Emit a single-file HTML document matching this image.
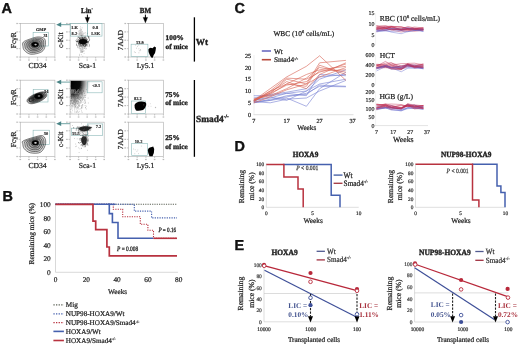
<!DOCTYPE html><html><head><meta charset="utf-8"><style>html,body{margin:0;padding:0;background:#fff;width:520px;height:346px;overflow:hidden}svg{display:block;will-change:transform;text-rendering:geometricPrecision}</style></head><body>
<svg width="520" height="346" viewBox="0 0 520 346">
<rect width="520" height="346" fill="#fff"/>
<g>
<text x="1.6" y="12.7" font-size="14.4" text-anchor="start" font-weight="bold" font-family="'Liberation Sans',sans-serif" fill="#111" stroke="#111" stroke-width="0.4">A</text>
<text x="2.4" y="201.1" font-size="14.4" text-anchor="start" font-weight="bold" font-family="'Liberation Sans',sans-serif" fill="#111" stroke="#111" stroke-width="0.4">B</text>
<text x="234.4" y="12.7" font-size="14.4" text-anchor="start" font-weight="bold" font-family="'Liberation Sans',sans-serif" fill="#111" stroke="#111" stroke-width="0.4">C</text>
<text x="234.6" y="150.8" font-size="14.4" text-anchor="start" font-weight="bold" font-family="'Liberation Sans',sans-serif" fill="#111" stroke="#111" stroke-width="0.4">D</text>
<text x="234.6" y="249.5" font-size="14.4" text-anchor="start" font-weight="bold" font-family="'Liberation Sans',sans-serif" fill="#111" stroke="#111" stroke-width="0.4">E</text>
<rect x="20.3" y="23.5" width="34.599999999999994" height="33.5" stroke="#b8b8b8" fill="none" stroke-width="0.7"/>
<line x1="18.7" y1="23.5" x2="20.3" y2="23.5" stroke="#999" stroke-width="0.5"/>
<line x1="20.3" y1="57.0" x2="20.3" y2="58.6" stroke="#999" stroke-width="0.5"/>
<line x1="18.7" y1="31.875" x2="20.3" y2="31.875" stroke="#999" stroke-width="0.5"/>
<line x1="28.95" y1="57.0" x2="28.95" y2="58.6" stroke="#999" stroke-width="0.5"/>
<line x1="18.7" y1="40.25" x2="20.3" y2="40.25" stroke="#999" stroke-width="0.5"/>
<line x1="37.599999999999994" y1="57.0" x2="37.599999999999994" y2="58.6" stroke="#999" stroke-width="0.5"/>
<line x1="18.7" y1="48.625" x2="20.3" y2="48.625" stroke="#999" stroke-width="0.5"/>
<line x1="46.25" y1="57.0" x2="46.25" y2="58.6" stroke="#999" stroke-width="0.5"/>
<line x1="18.7" y1="57.0" x2="20.3" y2="57.0" stroke="#999" stroke-width="0.5"/>
<line x1="54.89999999999999" y1="57.0" x2="54.89999999999999" y2="58.6" stroke="#999" stroke-width="0.5"/>
<rect x="16.3" y="22.9" width="1.6" height="1.2" fill="#bbb"/>
<rect x="19.5" y="59.4" width="1.6" height="1.2" fill="#bbb"/>
<rect x="16.3" y="31.3" width="1.6" height="1.2" fill="#bbb"/>
<rect x="28.1" y="59.4" width="1.6" height="1.2" fill="#bbb"/>
<rect x="16.3" y="39.6" width="1.6" height="1.2" fill="#bbb"/>
<rect x="36.8" y="59.4" width="1.6" height="1.2" fill="#bbb"/>
<rect x="16.3" y="48.0" width="1.6" height="1.2" fill="#bbb"/>
<rect x="45.5" y="59.4" width="1.6" height="1.2" fill="#bbb"/>
<rect x="16.3" y="56.4" width="1.6" height="1.2" fill="#bbb"/>
<rect x="54.1" y="59.4" width="1.6" height="1.2" fill="#bbb"/>
<rect x="70.1" y="23.5" width="34.10000000000001" height="33.5" stroke="#b8b8b8" fill="none" stroke-width="0.7"/>
<line x1="68.5" y1="23.5" x2="70.1" y2="23.5" stroke="#999" stroke-width="0.5"/>
<line x1="70.1" y1="57.0" x2="70.1" y2="58.6" stroke="#999" stroke-width="0.5"/>
<line x1="68.5" y1="31.875" x2="70.1" y2="31.875" stroke="#999" stroke-width="0.5"/>
<line x1="78.625" y1="57.0" x2="78.625" y2="58.6" stroke="#999" stroke-width="0.5"/>
<line x1="68.5" y1="40.25" x2="70.1" y2="40.25" stroke="#999" stroke-width="0.5"/>
<line x1="87.15" y1="57.0" x2="87.15" y2="58.6" stroke="#999" stroke-width="0.5"/>
<line x1="68.5" y1="48.625" x2="70.1" y2="48.625" stroke="#999" stroke-width="0.5"/>
<line x1="95.675" y1="57.0" x2="95.675" y2="58.6" stroke="#999" stroke-width="0.5"/>
<line x1="68.5" y1="57.0" x2="70.1" y2="57.0" stroke="#999" stroke-width="0.5"/>
<line x1="104.2" y1="57.0" x2="104.2" y2="58.6" stroke="#999" stroke-width="0.5"/>
<rect x="66.1" y="22.9" width="1.6" height="1.2" fill="#bbb"/>
<rect x="69.3" y="59.4" width="1.6" height="1.2" fill="#bbb"/>
<rect x="66.1" y="31.3" width="1.6" height="1.2" fill="#bbb"/>
<rect x="77.8" y="59.4" width="1.6" height="1.2" fill="#bbb"/>
<rect x="66.1" y="39.6" width="1.6" height="1.2" fill="#bbb"/>
<rect x="86.4" y="59.4" width="1.6" height="1.2" fill="#bbb"/>
<rect x="66.1" y="48.0" width="1.6" height="1.2" fill="#bbb"/>
<rect x="94.9" y="59.4" width="1.6" height="1.2" fill="#bbb"/>
<rect x="66.1" y="56.4" width="1.6" height="1.2" fill="#bbb"/>
<rect x="103.4" y="59.4" width="1.6" height="1.2" fill="#bbb"/>
<rect x="128.4" y="23.5" width="35.0" height="33.5" stroke="#b8b8b8" fill="none" stroke-width="0.7"/>
<line x1="126.80000000000001" y1="23.5" x2="128.4" y2="23.5" stroke="#999" stroke-width="0.5"/>
<line x1="128.4" y1="57.0" x2="128.4" y2="58.6" stroke="#999" stroke-width="0.5"/>
<line x1="126.80000000000001" y1="31.875" x2="128.4" y2="31.875" stroke="#999" stroke-width="0.5"/>
<line x1="137.15" y1="57.0" x2="137.15" y2="58.6" stroke="#999" stroke-width="0.5"/>
<line x1="126.80000000000001" y1="40.25" x2="128.4" y2="40.25" stroke="#999" stroke-width="0.5"/>
<line x1="145.9" y1="57.0" x2="145.9" y2="58.6" stroke="#999" stroke-width="0.5"/>
<line x1="126.80000000000001" y1="48.625" x2="128.4" y2="48.625" stroke="#999" stroke-width="0.5"/>
<line x1="154.65" y1="57.0" x2="154.65" y2="58.6" stroke="#999" stroke-width="0.5"/>
<line x1="126.80000000000001" y1="57.0" x2="128.4" y2="57.0" stroke="#999" stroke-width="0.5"/>
<line x1="163.4" y1="57.0" x2="163.4" y2="58.6" stroke="#999" stroke-width="0.5"/>
<rect x="124.4" y="22.9" width="1.6" height="1.2" fill="#bbb"/>
<rect x="127.6" y="59.4" width="1.6" height="1.2" fill="#bbb"/>
<rect x="124.4" y="31.3" width="1.6" height="1.2" fill="#bbb"/>
<rect x="136.3" y="59.4" width="1.6" height="1.2" fill="#bbb"/>
<rect x="124.4" y="39.6" width="1.6" height="1.2" fill="#bbb"/>
<rect x="145.1" y="59.4" width="1.6" height="1.2" fill="#bbb"/>
<rect x="124.4" y="48.0" width="1.6" height="1.2" fill="#bbb"/>
<rect x="153.8" y="59.4" width="1.6" height="1.2" fill="#bbb"/>
<rect x="124.4" y="56.4" width="1.6" height="1.2" fill="#bbb"/>
<rect x="162.6" y="59.4" width="1.6" height="1.2" fill="#bbb"/>
<rect x="20.3" y="80.2" width="34.599999999999994" height="33.8" stroke="#b8b8b8" fill="none" stroke-width="0.7"/>
<line x1="18.7" y1="80.2" x2="20.3" y2="80.2" stroke="#999" stroke-width="0.5"/>
<line x1="20.3" y1="114.0" x2="20.3" y2="115.6" stroke="#999" stroke-width="0.5"/>
<line x1="18.7" y1="88.65" x2="20.3" y2="88.65" stroke="#999" stroke-width="0.5"/>
<line x1="28.95" y1="114.0" x2="28.95" y2="115.6" stroke="#999" stroke-width="0.5"/>
<line x1="18.7" y1="97.1" x2="20.3" y2="97.1" stroke="#999" stroke-width="0.5"/>
<line x1="37.599999999999994" y1="114.0" x2="37.599999999999994" y2="115.6" stroke="#999" stroke-width="0.5"/>
<line x1="18.7" y1="105.55" x2="20.3" y2="105.55" stroke="#999" stroke-width="0.5"/>
<line x1="46.25" y1="114.0" x2="46.25" y2="115.6" stroke="#999" stroke-width="0.5"/>
<line x1="18.7" y1="114.0" x2="20.3" y2="114.0" stroke="#999" stroke-width="0.5"/>
<line x1="54.89999999999999" y1="114.0" x2="54.89999999999999" y2="115.6" stroke="#999" stroke-width="0.5"/>
<rect x="16.3" y="79.6" width="1.6" height="1.2" fill="#bbb"/>
<rect x="19.5" y="116.4" width="1.6" height="1.2" fill="#bbb"/>
<rect x="16.3" y="88.1" width="1.6" height="1.2" fill="#bbb"/>
<rect x="28.1" y="116.4" width="1.6" height="1.2" fill="#bbb"/>
<rect x="16.3" y="96.5" width="1.6" height="1.2" fill="#bbb"/>
<rect x="36.8" y="116.4" width="1.6" height="1.2" fill="#bbb"/>
<rect x="16.3" y="105.0" width="1.6" height="1.2" fill="#bbb"/>
<rect x="45.5" y="116.4" width="1.6" height="1.2" fill="#bbb"/>
<rect x="16.3" y="113.4" width="1.6" height="1.2" fill="#bbb"/>
<rect x="54.1" y="116.4" width="1.6" height="1.2" fill="#bbb"/>
<rect x="70.1" y="80.2" width="34.10000000000001" height="33.8" stroke="#b8b8b8" fill="none" stroke-width="0.7"/>
<line x1="68.5" y1="80.2" x2="70.1" y2="80.2" stroke="#999" stroke-width="0.5"/>
<line x1="70.1" y1="114.0" x2="70.1" y2="115.6" stroke="#999" stroke-width="0.5"/>
<line x1="68.5" y1="88.65" x2="70.1" y2="88.65" stroke="#999" stroke-width="0.5"/>
<line x1="78.625" y1="114.0" x2="78.625" y2="115.6" stroke="#999" stroke-width="0.5"/>
<line x1="68.5" y1="97.1" x2="70.1" y2="97.1" stroke="#999" stroke-width="0.5"/>
<line x1="87.15" y1="114.0" x2="87.15" y2="115.6" stroke="#999" stroke-width="0.5"/>
<line x1="68.5" y1="105.55" x2="70.1" y2="105.55" stroke="#999" stroke-width="0.5"/>
<line x1="95.675" y1="114.0" x2="95.675" y2="115.6" stroke="#999" stroke-width="0.5"/>
<line x1="68.5" y1="114.0" x2="70.1" y2="114.0" stroke="#999" stroke-width="0.5"/>
<line x1="104.2" y1="114.0" x2="104.2" y2="115.6" stroke="#999" stroke-width="0.5"/>
<rect x="66.1" y="79.6" width="1.6" height="1.2" fill="#bbb"/>
<rect x="69.3" y="116.4" width="1.6" height="1.2" fill="#bbb"/>
<rect x="66.1" y="88.1" width="1.6" height="1.2" fill="#bbb"/>
<rect x="77.8" y="116.4" width="1.6" height="1.2" fill="#bbb"/>
<rect x="66.1" y="96.5" width="1.6" height="1.2" fill="#bbb"/>
<rect x="86.4" y="116.4" width="1.6" height="1.2" fill="#bbb"/>
<rect x="66.1" y="105.0" width="1.6" height="1.2" fill="#bbb"/>
<rect x="94.9" y="116.4" width="1.6" height="1.2" fill="#bbb"/>
<rect x="66.1" y="113.4" width="1.6" height="1.2" fill="#bbb"/>
<rect x="103.4" y="116.4" width="1.6" height="1.2" fill="#bbb"/>
<rect x="128.4" y="80.2" width="35.0" height="33.8" stroke="#b8b8b8" fill="none" stroke-width="0.7"/>
<line x1="126.80000000000001" y1="80.2" x2="128.4" y2="80.2" stroke="#999" stroke-width="0.5"/>
<line x1="128.4" y1="114.0" x2="128.4" y2="115.6" stroke="#999" stroke-width="0.5"/>
<line x1="126.80000000000001" y1="88.65" x2="128.4" y2="88.65" stroke="#999" stroke-width="0.5"/>
<line x1="137.15" y1="114.0" x2="137.15" y2="115.6" stroke="#999" stroke-width="0.5"/>
<line x1="126.80000000000001" y1="97.1" x2="128.4" y2="97.1" stroke="#999" stroke-width="0.5"/>
<line x1="145.9" y1="114.0" x2="145.9" y2="115.6" stroke="#999" stroke-width="0.5"/>
<line x1="126.80000000000001" y1="105.55" x2="128.4" y2="105.55" stroke="#999" stroke-width="0.5"/>
<line x1="154.65" y1="114.0" x2="154.65" y2="115.6" stroke="#999" stroke-width="0.5"/>
<line x1="126.80000000000001" y1="114.0" x2="128.4" y2="114.0" stroke="#999" stroke-width="0.5"/>
<line x1="163.4" y1="114.0" x2="163.4" y2="115.6" stroke="#999" stroke-width="0.5"/>
<rect x="124.4" y="79.6" width="1.6" height="1.2" fill="#bbb"/>
<rect x="127.6" y="116.4" width="1.6" height="1.2" fill="#bbb"/>
<rect x="124.4" y="88.1" width="1.6" height="1.2" fill="#bbb"/>
<rect x="136.3" y="116.4" width="1.6" height="1.2" fill="#bbb"/>
<rect x="124.4" y="96.5" width="1.6" height="1.2" fill="#bbb"/>
<rect x="145.1" y="116.4" width="1.6" height="1.2" fill="#bbb"/>
<rect x="124.4" y="105.0" width="1.6" height="1.2" fill="#bbb"/>
<rect x="153.8" y="116.4" width="1.6" height="1.2" fill="#bbb"/>
<rect x="124.4" y="113.4" width="1.6" height="1.2" fill="#bbb"/>
<rect x="162.6" y="116.4" width="1.6" height="1.2" fill="#bbb"/>
<rect x="20.3" y="122.2" width="34.599999999999994" height="34.3" stroke="#b8b8b8" fill="none" stroke-width="0.7"/>
<line x1="18.7" y1="122.2" x2="20.3" y2="122.2" stroke="#999" stroke-width="0.5"/>
<line x1="20.3" y1="156.5" x2="20.3" y2="158.1" stroke="#999" stroke-width="0.5"/>
<line x1="18.7" y1="130.775" x2="20.3" y2="130.775" stroke="#999" stroke-width="0.5"/>
<line x1="28.95" y1="156.5" x2="28.95" y2="158.1" stroke="#999" stroke-width="0.5"/>
<line x1="18.7" y1="139.35" x2="20.3" y2="139.35" stroke="#999" stroke-width="0.5"/>
<line x1="37.599999999999994" y1="156.5" x2="37.599999999999994" y2="158.1" stroke="#999" stroke-width="0.5"/>
<line x1="18.7" y1="147.925" x2="20.3" y2="147.925" stroke="#999" stroke-width="0.5"/>
<line x1="46.25" y1="156.5" x2="46.25" y2="158.1" stroke="#999" stroke-width="0.5"/>
<line x1="18.7" y1="156.5" x2="20.3" y2="156.5" stroke="#999" stroke-width="0.5"/>
<line x1="54.89999999999999" y1="156.5" x2="54.89999999999999" y2="158.1" stroke="#999" stroke-width="0.5"/>
<rect x="16.3" y="121.6" width="1.6" height="1.2" fill="#bbb"/>
<rect x="19.5" y="158.9" width="1.6" height="1.2" fill="#bbb"/>
<rect x="16.3" y="130.2" width="1.6" height="1.2" fill="#bbb"/>
<rect x="28.1" y="158.9" width="1.6" height="1.2" fill="#bbb"/>
<rect x="16.3" y="138.8" width="1.6" height="1.2" fill="#bbb"/>
<rect x="36.8" y="158.9" width="1.6" height="1.2" fill="#bbb"/>
<rect x="16.3" y="147.3" width="1.6" height="1.2" fill="#bbb"/>
<rect x="45.5" y="158.9" width="1.6" height="1.2" fill="#bbb"/>
<rect x="16.3" y="155.9" width="1.6" height="1.2" fill="#bbb"/>
<rect x="54.1" y="158.9" width="1.6" height="1.2" fill="#bbb"/>
<rect x="70.1" y="122.2" width="34.10000000000001" height="34.3" stroke="#b8b8b8" fill="none" stroke-width="0.7"/>
<line x1="68.5" y1="122.2" x2="70.1" y2="122.2" stroke="#999" stroke-width="0.5"/>
<line x1="70.1" y1="156.5" x2="70.1" y2="158.1" stroke="#999" stroke-width="0.5"/>
<line x1="68.5" y1="130.775" x2="70.1" y2="130.775" stroke="#999" stroke-width="0.5"/>
<line x1="78.625" y1="156.5" x2="78.625" y2="158.1" stroke="#999" stroke-width="0.5"/>
<line x1="68.5" y1="139.35" x2="70.1" y2="139.35" stroke="#999" stroke-width="0.5"/>
<line x1="87.15" y1="156.5" x2="87.15" y2="158.1" stroke="#999" stroke-width="0.5"/>
<line x1="68.5" y1="147.925" x2="70.1" y2="147.925" stroke="#999" stroke-width="0.5"/>
<line x1="95.675" y1="156.5" x2="95.675" y2="158.1" stroke="#999" stroke-width="0.5"/>
<line x1="68.5" y1="156.5" x2="70.1" y2="156.5" stroke="#999" stroke-width="0.5"/>
<line x1="104.2" y1="156.5" x2="104.2" y2="158.1" stroke="#999" stroke-width="0.5"/>
<rect x="66.1" y="121.6" width="1.6" height="1.2" fill="#bbb"/>
<rect x="69.3" y="158.9" width="1.6" height="1.2" fill="#bbb"/>
<rect x="66.1" y="130.2" width="1.6" height="1.2" fill="#bbb"/>
<rect x="77.8" y="158.9" width="1.6" height="1.2" fill="#bbb"/>
<rect x="66.1" y="138.8" width="1.6" height="1.2" fill="#bbb"/>
<rect x="86.4" y="158.9" width="1.6" height="1.2" fill="#bbb"/>
<rect x="66.1" y="147.3" width="1.6" height="1.2" fill="#bbb"/>
<rect x="94.9" y="158.9" width="1.6" height="1.2" fill="#bbb"/>
<rect x="66.1" y="155.9" width="1.6" height="1.2" fill="#bbb"/>
<rect x="103.4" y="158.9" width="1.6" height="1.2" fill="#bbb"/>
<rect x="128.4" y="122.2" width="35.0" height="34.3" stroke="#b8b8b8" fill="none" stroke-width="0.7"/>
<line x1="126.80000000000001" y1="122.2" x2="128.4" y2="122.2" stroke="#999" stroke-width="0.5"/>
<line x1="128.4" y1="156.5" x2="128.4" y2="158.1" stroke="#999" stroke-width="0.5"/>
<line x1="126.80000000000001" y1="130.775" x2="128.4" y2="130.775" stroke="#999" stroke-width="0.5"/>
<line x1="137.15" y1="156.5" x2="137.15" y2="158.1" stroke="#999" stroke-width="0.5"/>
<line x1="126.80000000000001" y1="139.35" x2="128.4" y2="139.35" stroke="#999" stroke-width="0.5"/>
<line x1="145.9" y1="156.5" x2="145.9" y2="158.1" stroke="#999" stroke-width="0.5"/>
<line x1="126.80000000000001" y1="147.925" x2="128.4" y2="147.925" stroke="#999" stroke-width="0.5"/>
<line x1="154.65" y1="156.5" x2="154.65" y2="158.1" stroke="#999" stroke-width="0.5"/>
<line x1="126.80000000000001" y1="156.5" x2="128.4" y2="156.5" stroke="#999" stroke-width="0.5"/>
<line x1="163.4" y1="156.5" x2="163.4" y2="158.1" stroke="#999" stroke-width="0.5"/>
<rect x="124.4" y="121.6" width="1.6" height="1.2" fill="#bbb"/>
<rect x="127.6" y="158.9" width="1.6" height="1.2" fill="#bbb"/>
<rect x="124.4" y="130.2" width="1.6" height="1.2" fill="#bbb"/>
<rect x="136.3" y="158.9" width="1.6" height="1.2" fill="#bbb"/>
<rect x="124.4" y="138.8" width="1.6" height="1.2" fill="#bbb"/>
<rect x="145.1" y="158.9" width="1.6" height="1.2" fill="#bbb"/>
<rect x="124.4" y="147.3" width="1.6" height="1.2" fill="#bbb"/>
<rect x="153.8" y="158.9" width="1.6" height="1.2" fill="#bbb"/>
<rect x="124.4" y="155.9" width="1.6" height="1.2" fill="#bbb"/>
<rect x="162.6" y="158.9" width="1.6" height="1.2" fill="#bbb"/>
<rect x="33.1" y="32.3" width="15.600000000000001" height="13.700000000000003" stroke="#8bb8b8" fill="none" stroke-width="0.6"/>
<rect x="70.6" y="23.6" width="16.700000000000003" height="12.5" stroke="#8bb8b8" fill="none" stroke-width="0.6"/>
<rect x="87.3" y="23.6" width="14.700000000000003" height="12.5" stroke="#8bb8b8" fill="none" stroke-width="0.6"/>
<rect x="131.1" y="44.2" width="16.80000000000001" height="12.099999999999994" stroke="#8bb8b8" fill="none" stroke-width="0.6"/>
<rect x="33.2" y="89.3" width="14.799999999999997" height="12.700000000000003" stroke="#8bb8b8" fill="none" stroke-width="0.6"/>
<rect x="87.2" y="81.8" width="14.899999999999991" height="11.0" stroke="#8bb8b8" fill="none" stroke-width="0.6"/>
<rect x="131.3" y="101.0" width="14.299999999999983" height="12.400000000000006" stroke="#8bb8b8" fill="none" stroke-width="0.6"/>
<rect x="33.1" y="130.2" width="16.199999999999996" height="14.400000000000006" stroke="#8bb8b8" fill="none" stroke-width="0.6"/>
<rect x="71.5" y="128.2" width="16.0" height="7.400000000000006" stroke="#8bb8b8" fill="none" stroke-width="0.6"/>
<rect x="87.5" y="123.9" width="15.200000000000003" height="11.699999999999989" stroke="#8bb8b8" fill="none" stroke-width="0.6"/>
<rect x="131.7" y="143.6" width="15.900000000000006" height="11.900000000000006" stroke="#8bb8b8" fill="none" stroke-width="0.6"/>
<path d="M23.30 42.10C24.48 40.90 27.52 39.87 30.00 39.00C32.48 38.13 35.75 36.92 38.20 36.90C40.65 36.88 43.55 37.35 44.70 38.90C45.85 40.45 45.63 44.03 45.10 46.20C44.57 48.37 43.85 50.55 41.50 51.90C39.15 53.25 33.83 54.52 31.00 54.30C28.17 54.08 25.85 51.95 24.50 50.60C23.15 49.25 23.10 47.62 22.90 46.20C22.70 44.78 22.12 43.30 23.30 42.10Z" fill="rgba(30,30,30,0.16)" stroke="rgba(10,10,10,0.8)" stroke-width="0.6"/>
<path d="M25.25 42.48C26.24 41.48 28.76 40.62 30.83 39.90C32.90 39.18 35.62 38.16 37.67 38.15C39.71 38.14 42.12 38.53 43.08 39.82C44.04 41.11 43.86 44.09 43.42 45.90C42.97 47.71 42.38 49.52 40.42 50.65C38.46 51.77 34.03 52.83 31.67 52.65C29.31 52.47 27.37 50.69 26.25 49.57C25.12 48.44 25.08 47.08 24.92 45.90C24.75 44.72 24.26 43.48 25.25 42.48Z" fill="rgba(30,30,30,0.16)" stroke="rgba(10,10,10,0.8)" stroke-width="0.6"/>
<path d="M27.20 42.87C27.99 42.07 30.01 41.38 31.67 40.80C33.32 40.22 35.50 39.41 37.13 39.40C38.77 39.39 40.70 39.70 41.47 40.73C42.23 41.77 42.09 44.16 41.73 45.60C41.38 47.04 40.90 48.50 39.33 49.40C37.77 50.30 34.22 51.14 32.33 51.00C30.44 50.86 28.90 49.43 28.00 48.53C27.10 47.63 27.07 46.54 26.93 45.60C26.80 44.66 26.41 43.67 27.20 42.87Z" fill="rgba(30,30,30,0.16)" stroke="rgba(10,10,10,0.8)" stroke-width="0.6"/>
<path d="M29.15 43.25C29.74 42.65 31.26 42.13 32.50 41.70C33.74 41.27 35.38 40.66 36.60 40.65C37.83 40.64 39.28 40.88 39.85 41.65C40.42 42.43 40.32 44.22 40.05 45.30C39.78 46.38 39.42 47.48 38.25 48.15C37.08 48.83 34.42 49.46 33.00 49.35C31.58 49.24 30.43 48.17 29.75 47.50C29.07 46.83 29.05 46.01 28.95 45.30C28.85 44.59 28.56 43.85 29.15 43.25Z" fill="rgba(30,30,30,0.16)" stroke="rgba(10,10,10,0.8)" stroke-width="0.6"/>
<path d="M31.10 43.63C31.49 43.23 32.51 42.89 33.33 42.60C34.16 42.31 35.25 41.91 36.07 41.90C36.88 41.89 37.85 42.05 38.23 42.57C38.62 43.08 38.54 44.28 38.37 45.00C38.19 45.72 37.95 46.45 37.17 46.90C36.38 47.35 34.61 47.77 33.67 47.70C32.72 47.63 31.95 46.92 31.50 46.47C31.05 46.02 31.03 45.47 30.97 45.00C30.90 44.53 30.71 44.03 31.10 43.63Z" fill="rgba(30,30,30,0.16)" stroke="rgba(10,10,10,0.8)" stroke-width="0.6"/>
<path d="M33.05 44.02C33.25 43.82 33.75 43.64 34.17 43.50C34.58 43.36 35.13 43.15 35.53 43.15C35.94 43.15 36.42 43.23 36.62 43.48C36.81 43.74 36.77 44.34 36.68 44.70C36.59 45.06 36.48 45.42 36.08 45.65C35.69 45.88 34.81 46.09 34.33 46.05C33.86 46.01 33.48 45.66 33.25 45.43C33.02 45.21 33.02 44.94 32.98 44.70C32.95 44.46 32.85 44.22 33.05 44.02Z" fill="rgba(30,30,30,0.16)" stroke="rgba(10,10,10,0.8)" stroke-width="0.6"/>
<ellipse cx="35" cy="44.4" rx="3.6" ry="2.5" fill="#000"/>
<ellipse cx="35.6" cy="44.6" rx="1.2" ry="0.8" fill="#bbb"/>
<path d="M46.10 93.10C46.78 93.93 47.12 95.53 46.10 96.90C45.08 98.27 42.35 100.17 40.00 101.30C37.65 102.43 34.08 103.57 32.00 103.70C29.92 103.83 28.17 102.97 27.50 102.10C26.83 101.23 26.92 99.77 28.00 98.50C29.08 97.23 31.67 95.60 34.00 94.50C36.33 93.40 39.98 92.13 42.00 91.90C44.02 91.67 45.42 92.27 46.10 93.10Z" fill="rgba(30,30,30,0.3)" stroke="rgba(10,10,10,0.9)" stroke-width="0.6"/>
<path d="M44.83 93.62C45.40 94.31 45.68 95.64 44.83 96.78C43.99 97.92 41.71 99.51 39.75 100.45C37.79 101.39 34.82 102.34 33.08 102.45C31.35 102.56 29.89 101.84 29.33 101.12C28.78 100.39 28.85 99.17 29.75 98.12C30.65 97.06 32.81 95.70 34.75 94.78C36.69 93.87 39.74 92.81 41.42 92.62C43.10 92.42 44.26 92.92 44.83 93.62Z" fill="rgba(30,30,30,0.3)" stroke="rgba(10,10,10,0.9)" stroke-width="0.6"/>
<path d="M43.57 94.13C44.02 94.69 44.24 95.76 43.57 96.67C42.89 97.58 41.07 98.84 39.50 99.60C37.93 100.36 35.56 101.11 34.17 101.20C32.78 101.29 31.61 100.71 31.17 100.13C30.72 99.56 30.78 98.58 31.50 97.73C32.22 96.89 33.94 95.80 35.50 95.07C37.06 94.33 39.49 93.49 40.83 93.33C42.18 93.18 43.11 93.58 43.57 94.13Z" fill="rgba(30,30,30,0.3)" stroke="rgba(10,10,10,0.9)" stroke-width="0.6"/>
<path d="M42.30 94.65C42.64 95.07 42.81 95.87 42.30 96.55C41.79 97.23 40.42 98.18 39.25 98.75C38.08 99.32 36.29 99.88 35.25 99.95C34.21 100.02 33.33 99.58 33.00 99.15C32.67 98.72 32.71 97.98 33.25 97.35C33.79 96.72 35.08 95.90 36.25 95.35C37.42 94.80 39.24 94.17 40.25 94.05C41.26 93.93 41.96 94.23 42.30 94.65Z" fill="rgba(30,30,30,0.3)" stroke="rgba(10,10,10,0.9)" stroke-width="0.6"/>
<path d="M41.03 95.17C41.26 95.44 41.37 95.98 41.03 96.43C40.69 96.89 39.78 97.52 39.00 97.90C38.22 98.28 37.03 98.66 36.33 98.70C35.64 98.74 35.06 98.46 34.83 98.17C34.61 97.88 34.64 97.39 35.00 96.97C35.36 96.54 36.22 96.00 37.00 95.63C37.78 95.27 38.99 94.84 39.67 94.77C40.34 94.69 40.81 94.89 41.03 95.17Z" fill="rgba(30,30,30,0.3)" stroke="rgba(10,10,10,0.9)" stroke-width="0.6"/>
<path d="M39.77 95.68C39.88 95.82 39.94 96.09 39.77 96.32C39.60 96.54 39.14 96.86 38.75 97.05C38.36 97.24 37.76 97.43 37.42 97.45C37.07 97.47 36.78 97.33 36.67 97.18C36.56 97.04 36.57 96.79 36.75 96.58C36.93 96.37 37.36 96.10 37.75 95.92C38.14 95.73 38.75 95.52 39.08 95.48C39.42 95.44 39.65 95.54 39.77 95.68Z" fill="rgba(30,30,30,0.3)" stroke="rgba(10,10,10,0.9)" stroke-width="0.6"/>
<ellipse cx="38.5" cy="96.2" rx="4.2" ry="2.8" fill="#000"/>
<ellipse cx="31.5" cy="99.6" rx="3.2" ry="2.2" transform="rotate(-25 31.5 99.6)" fill="#222" opacity="0.75"/>
<ellipse cx="30.8" cy="100" rx="0.9" ry="0.6" fill="#999"/>
<ellipse cx="39" cy="96" rx="1.3" ry="0.8" fill="#888"/>
<path d="M23.10 141.00C24.80 139.95 29.70 138.37 33.00 137.50C36.30 136.63 40.78 134.87 42.90 135.80C45.02 136.73 46.05 140.38 45.70 143.10C45.35 145.82 43.35 150.48 40.80 152.10C38.25 153.72 33.17 153.37 30.40 152.80C27.63 152.23 25.47 150.20 24.20 148.70C22.93 147.20 22.98 145.08 22.80 143.80C22.62 142.52 21.40 142.05 23.10 141.00Z" fill="rgba(30,30,30,0.13)" stroke="rgba(10,10,10,0.85)" stroke-width="0.6"/>
<path d="M25.13 141.30C26.55 140.42 30.63 139.11 33.38 138.38C36.13 137.66 39.87 136.19 41.63 136.97C43.40 137.74 44.26 140.79 43.97 143.05C43.68 145.31 42.01 149.20 39.88 150.55C37.76 151.90 33.52 151.61 31.22 151.13C28.91 150.66 27.11 148.97 26.05 147.72C24.99 146.47 25.04 144.70 24.88 143.63C24.73 142.56 23.72 142.17 25.13 141.30Z" fill="rgba(30,30,30,0.13)" stroke="rgba(10,10,10,0.85)" stroke-width="0.6"/>
<path d="M27.17 141.60C28.30 140.90 31.57 139.84 33.77 139.27C35.97 138.69 38.96 137.51 40.37 138.13C41.78 138.76 42.47 141.19 42.23 143.00C42.00 144.81 40.67 147.92 38.97 149.00C37.27 150.08 33.88 149.84 32.03 149.47C30.19 149.09 28.74 147.73 27.90 146.73C27.06 145.73 27.09 144.32 26.97 143.47C26.84 142.61 26.03 142.30 27.17 141.60Z" fill="rgba(30,30,30,0.13)" stroke="rgba(10,10,10,0.85)" stroke-width="0.6"/>
<path d="M29.20 141.90C30.05 141.38 32.50 140.58 34.15 140.15C35.80 139.72 38.04 138.83 39.10 139.30C40.16 139.77 40.67 141.59 40.50 142.95C40.33 144.31 39.32 146.64 38.05 147.45C36.77 148.26 34.23 148.08 32.85 147.80C31.47 147.52 30.38 146.50 29.75 145.75C29.12 145.00 29.14 143.94 29.05 143.30C28.96 142.66 28.35 142.43 29.20 141.90Z" fill="rgba(30,30,30,0.13)" stroke="rgba(10,10,10,0.85)" stroke-width="0.6"/>
<path d="M31.23 142.20C31.80 141.85 33.43 141.32 34.53 141.03C35.63 140.74 37.13 140.16 37.83 140.47C38.54 140.78 38.88 141.99 38.77 142.90C38.65 143.81 37.98 145.36 37.13 145.90C36.28 146.44 34.59 146.32 33.67 146.13C32.74 145.94 32.02 145.27 31.60 144.77C31.18 144.27 31.19 143.56 31.13 143.13C31.07 142.71 30.67 142.55 31.23 142.20Z" fill="rgba(30,30,30,0.13)" stroke="rgba(10,10,10,0.85)" stroke-width="0.6"/>
<path d="M33.27 142.50C33.55 142.33 34.37 142.06 34.92 141.92C35.47 141.77 36.21 141.48 36.57 141.63C36.92 141.79 37.09 142.40 37.03 142.85C36.97 143.30 36.64 144.08 36.22 144.35C35.79 144.62 34.94 144.56 34.48 144.47C34.02 144.37 33.66 144.03 33.45 143.78C33.24 143.53 33.25 143.18 33.22 142.97C33.19 142.75 32.98 142.68 33.27 142.50Z" fill="rgba(30,30,30,0.13)" stroke="rgba(10,10,10,0.85)" stroke-width="0.6"/>
<ellipse cx="35.3" cy="142.8" rx="3.4" ry="2.5" fill="#000"/>
<ellipse cx="35.5" cy="142.8" rx="1.3" ry="0.9" fill="#ddd"/>
<path d="M81.8 44.3h0M81.9 41.4h0M80.1 41.7h0M85.4 44.0h0M85.2 43.4h0M83.5 43.2h0M78.2 45.6h0M83.8 44.3h0M78.1 36.2h0M80.2 40.8h0M83.3 42.3h0M83.9 40.2h0M83.3 43.9h0M80.8 48.7h0M83.9 46.8h0M80.9 39.8h0M81.6 42.1h0M84.1 43.4h0M81.3 39.1h0M81.1 46.9h0M80.4 43.4h0M83.6 37.1h0M82.6 47.2h0M77.3 41.3h0M82.2 39.6h0M83.8 42.3h0M78.7 45.5h0M84.2 45.9h0M86.2 43.8h0M82.8 37.8h0M84.1 40.3h0M81.3 37.9h0M80.0 40.6h0M85.9 35.2h0M78.7 43.4h0M86.3 44.6h0M77.6 33.4h0M83.4 39.8h0M79.6 46.0h0M85.4 43.1h0M83.1 44.1h0M86.6 44.7h0M83.8 44.5h0M78.4 47.1h0M85.0 44.4h0M77.4 40.2h0M84.7 36.0h0M82.0 46.2h0M79.1 48.3h0M83.9 42.0h0M83.3 44.8h0M82.8 46.6h0M80.8 41.0h0M85.2 42.6h0M80.2 45.9h0M86.3 40.9h0M78.9 42.0h0M82.1 41.4h0M86.2 38.8h0M85.8 37.9h0M80.5 44.8h0M85.4 45.6h0M83.4 43.0h0M82.9 44.6h0M82.0 43.5h0M84.0 42.5h0M84.5 44.5h0M87.7 43.7h0M81.4 41.2h0M82.5 45.8h0M81.6 43.9h0M87.3 33.3h0M79.6 43.4h0M83.5 43.4h0M81.4 44.9h0M83.2 40.6h0M88.8 43.8h0M81.1 42.1h0M81.9 42.3h0M75.4 40.7h0M85.1 38.3h0M82.3 45.9h0M84.7 47.9h0M78.1 41.2h0M81.6 44.7h0M85.3 32.8h0M85.3 37.3h0M84.3 37.1h0M83.0 46.8h0M82.1 43.2h0M84.6 43.0h0M82.3 48.0h0M85.2 41.4h0M89.6 38.4h0M84.9 41.5h0M82.8 45.0h0M83.1 44.8h0M78.5 37.1h0M84.1 39.0h0M79.8 37.2h0M85.8 45.2h0M86.3 39.1h0M82.5 38.4h0M84.5 48.2h0M80.2 48.1h0M85.1 41.9h0M77.4 47.6h0M82.2 40.3h0M83.5 44.0h0M86.4 38.8h0M85.5 47.9h0M86.3 41.8h0M80.6 46.2h0M82.8 42.9h0M86.2 41.6h0M76.5 41.1h0M77.7 45.4h0M83.3 40.3h0M82.5 45.5h0M82.7 47.3h0M82.3 46.2h0M86.4 48.3h0M80.8 45.7h0M77.6 38.6h0M77.4 46.3h0M79.3 42.5h0M82.0 42.4h0M81.0 43.3h0M87.2 42.7h0M83.9 46.1h0M82.0 38.0h0M81.1 46.4h0M78.2 40.3h0M85.1 45.4h0M82.5 45.4h0M82.9 38.3h0M78.4 40.2h0M84.9 40.5h0M80.2 39.7h0M78.5 42.1h0M79.4 43.8h0M76.4 43.7h0M80.8 35.5h0M84.4 41.5h0M76.7 39.3h0M83.3 40.8h0M84.5 45.2h0M84.2 43.7h0M86.0 44.9h0M83.7 35.0h0M84.8 47.2h0M81.7 40.8h0M87.5 36.2h0M83.7 51.2h0M80.1 45.0h0M87.4 42.1h0M84.0 45.7h0M80.1 42.2h0M83.3 45.5h0M82.4 41.8h0M79.9 41.2h0M84.8 42.9h0M80.3 39.5h0M89.4 46.6h0M84.2 33.2h0M84.1 44.2h0M86.9 44.0h0M82.3 44.4h0M77.4 46.2h0M83.3 40.0h0M85.9 49.0h0M78.9 40.1h0M83.3 43.2h0M81.5 39.0h0M88.0 46.2h0M79.4 37.7h0M86.9 46.1h0M87.2 45.4h0M80.2 43.4h0M76.9 39.8h0M82.3 44.4h0M80.6 42.1h0M83.7 43.9h0M84.2 43.3h0M81.7 45.3h0M82.6 39.5h0M80.9 42.5h0M82.2 43.1h0M82.5 43.1h0M82.2 38.0h0M83.6 46.3h0M83.6 41.8h0M83.7 39.0h0M77.6 42.7h0M80.1 45.2h0M79.7 33.0h0M79.8 48.2h0M81.5 37.6h0M80.5 44.4h0M83.8 43.1h0M86.4 45.0h0M82.4 44.6h0M86.8 46.0h0M85.2 38.6h0M82.1 45.1h0M81.7 46.3h0M84.1 45.8h0M81.9 51.7h0M85.7 41.7h0M82.7 51.8h0M81.6 45.6h0M85.0 42.5h0M79.5 43.2h0M83.4 46.6h0M84.5 42.6h0M84.7 44.4h0M83.0 42.7h0M81.9 45.0h0M79.8 40.2h0M82.5 37.2h0" stroke="#333" stroke-width="0.9" stroke-linecap="round" opacity="0.35"/>
<path d="M80.3 28.8h0M80.0 35.5h0M81.5 33.9h0M80.5 30.3h0M83.0 35.3h0M82.1 31.7h0M80.6 29.3h0M81.7 36.4h0M78.5 33.9h0M81.6 29.4h0M78.6 31.2h0M80.0 30.4h0M80.8 34.6h0M81.6 35.8h0M82.6 37.0h0M79.2 32.7h0M79.5 31.2h0M80.7 34.0h0M81.4 29.9h0M79.3 33.9h0M80.6 33.2h0M80.7 32.0h0M81.6 34.9h0M80.7 32.3h0M80.6 26.9h0M79.6 34.1h0M79.0 34.5h0M81.0 30.4h0M80.5 33.2h0M81.4 35.6h0M80.8 31.8h0M80.6 33.8h0M81.7 34.8h0M79.9 30.5h0M80.4 32.1h0M79.5 33.7h0M80.2 34.3h0M81.4 32.9h0M83.6 33.2h0M82.1 34.3h0M82.1 27.8h0M79.9 34.6h0M81.5 40.1h0M81.2 37.3h0M81.7 36.5h0M81.4 33.6h0M81.4 31.2h0M82.2 31.4h0M81.1 39.5h0M80.5 34.1h0M82.2 34.1h0M79.8 34.7h0M81.5 35.8h0M79.9 38.6h0M82.8 34.0h0M81.1 32.9h0M82.5 32.2h0M81.6 32.8h0M80.0 35.9h0M82.4 34.0h0" stroke="#555" stroke-width="0.9" stroke-linecap="round" opacity="0.35"/>
<path d="M81.1 52.4h0M81.9 50.9h0M84.1 53.4h0M82.0 52.4h0M81.1 49.9h0M79.6 55.4h0M83.9 46.4h0M79.9 45.1h0M83.6 48.6h0M81.9 49.1h0M81.8 46.7h0M82.0 45.7h0M81.9 50.9h0M82.7 49.3h0M80.7 50.5h0M81.3 54.7h0M83.1 49.7h0M81.3 47.9h0M80.7 48.9h0M82.4 51.5h0M82.8 56.3h0M81.0 50.0h0M85.9 44.4h0M81.3 50.5h0M82.2 51.2h0M81.7 51.1h0M82.1 52.3h0M79.4 47.3h0M82.0 46.9h0M80.5 51.9h0M81.1 51.9h0M83.0 50.9h0M82.7 49.7h0M80.0 49.9h0M82.6 48.4h0M81.9 52.2h0M80.8 51.9h0M84.6 48.3h0M82.2 49.5h0M84.2 50.9h0M83.3 47.9h0M82.0 50.0h0M79.5 54.3h0M83.3 44.8h0" stroke="#555" stroke-width="0.9" stroke-linecap="round" opacity="0.35"/>
<ellipse cx="83" cy="41.6" rx="4.2" ry="2.7" fill="#000" opacity="0.9"/>
<path d="M84.9 41.3h0M84.2 42.2h0M79.1 41.1h0M86.9 40.5h0M80.3 39.1h0M79.8 42.1h0M87.4 42.3h0M83.6 45.5h0M81.6 40.3h0M84.4 42.5h0M80.4 39.4h0M83.8 41.9h0M79.6 41.1h0M81.6 42.3h0M82.7 41.3h0M82.1 43.4h0M86.6 40.8h0M85.2 40.1h0M83.2 42.8h0M86.9 40.8h0M82.8 41.9h0M79.1 41.5h0M81.2 42.2h0M80.1 37.9h0M83.1 42.0h0M81.6 43.1h0M82.3 40.4h0M84.2 38.7h0M81.2 41.5h0M85.2 41.2h0M83.8 40.3h0M83.8 44.5h0M81.2 45.8h0M81.3 41.5h0M83.5 43.3h0M79.8 37.7h0M84.6 42.9h0M84.6 46.2h0M83.5 42.0h0M85.4 42.2h0M87.3 39.3h0M82.0 35.3h0M85.1 40.8h0M85.4 45.4h0M83.0 41.0h0M81.7 40.0h0M81.4 42.7h0M83.1 41.6h0M82.5 43.1h0M84.3 41.2h0M84.7 41.2h0M80.0 44.1h0M84.2 39.8h0M85.8 42.1h0M78.9 44.4h0M83.9 43.1h0M83.5 41.2h0M79.0 43.2h0M83.1 41.0h0M83.9 41.6h0M84.8 40.8h0M82.9 37.6h0M81.9 42.7h0M86.5 40.8h0M82.7 44.4h0M82.2 42.8h0M87.4 41.6h0M86.2 40.2h0M83.5 41.4h0M83.3 43.5h0M89.2 40.3h0M81.5 42.4h0M80.3 42.4h0M84.5 41.0h0M84.4 38.7h0M85.0 38.7h0M81.2 40.5h0M82.0 43.0h0M83.2 40.8h0M84.4 44.3h0M83.0 42.2h0M86.2 42.0h0M79.7 46.0h0M88.7 37.9h0M82.9 42.3h0M85.5 42.7h0M82.3 39.6h0M83.3 43.4h0M80.2 39.7h0M82.9 38.0h0M82.3 40.7h0M84.2 40.2h0M80.7 40.8h0M82.9 40.3h0M83.0 42.9h0M86.1 44.6h0M81.0 40.7h0M76.5 44.9h0M81.1 41.4h0M84.4 39.1h0M84.2 41.5h0M78.3 42.0h0M86.1 38.1h0M85.1 41.9h0M84.2 42.3h0M86.4 41.1h0M85.3 40.8h0M84.9 40.0h0M82.7 44.6h0M84.2 41.2h0M80.0 40.1h0M83.5 43.2h0M84.1 42.4h0M82.9 43.9h0M82.0 40.5h0M85.3 41.6h0M82.3 40.5h0M82.3 42.6h0M83.9 39.3h0M84.1 41.8h0M80.4 42.9h0M82.3 40.9h0M85.1 43.9h0M81.2 42.3h0M80.7 45.7h0M81.7 43.7h0M81.3 43.0h0M88.8 36.9h0M81.9 42.4h0M82.8 40.3h0M88.6 41.6h0M78.7 43.0h0M78.5 43.6h0M81.5 41.8h0M86.3 41.7h0M79.4 38.4h0M86.1 42.8h0M80.9 43.0h0M84.3 42.7h0M77.1 41.0h0M85.3 42.8h0M85.3 37.1h0M83.4 42.4h0M89.6 39.8h0M82.1 41.6h0M85.3 40.7h0M86.0 40.1h0M83.7 40.6h0M83.4 40.3h0M78.8 43.5h0M83.8 40.5h0M83.5 43.3h0M80.5 41.3h0M84.4 42.4h0M82.1 37.7h0M86.2 42.1h0M83.0 41.0h0M83.7 40.7h0M80.3 40.2h0M81.4 40.4h0M80.0 42.6h0M79.6 42.7h0M80.4 42.1h0M86.6 41.9h0M81.1 41.6h0M83.4 38.4h0M81.4 41.8h0M81.8 41.6h0M84.9 42.9h0M85.4 42.6h0M82.3 41.5h0M82.3 40.9h0M82.5 38.4h0M82.1 41.5h0M80.5 41.5h0M84.3 41.2h0M88.4 36.8h0M82.5 38.2h0M85.5 46.3h0M76.5 41.7h0M84.3 41.0h0M84.4 37.5h0M85.2 42.2h0M83.1 40.4h0M84.7 40.6h0M83.6 40.6h0M77.2 41.4h0M83.5 42.9h0M80.7 41.4h0M84.6 41.8h0M86.2 45.1h0M80.6 38.0h0M85.2 44.3h0M85.4 43.0h0M81.4 40.2h0M85.3 39.9h0M78.3 39.7h0M89.5 45.0h0M81.2 40.2h0M83.6 40.2h0M86.4 41.4h0M80.2 43.9h0M81.5 41.9h0M83.0 40.9h0M83.8 40.3h0M78.2 37.5h0M79.7 40.1h0M82.9 41.6h0M84.4 41.7h0M80.9 40.2h0M77.5 41.2h0M84.3 42.5h0M82.7 41.2h0M85.4 41.5h0M84.9 42.5h0M83.6 43.9h0M81.5 40.9h0M80.9 40.1h0M87.0 44.7h0M83.1 42.5h0M86.1 43.0h0M86.1 39.2h0M81.3 42.3h0M86.7 41.7h0M80.8 40.9h0M81.3 40.0h0M86.9 40.4h0M83.1 45.4h0M86.1 42.1h0M81.4 42.2h0M87.2 42.6h0M86.3 41.7h0M84.3 41.1h0M84.1 43.8h0M79.3 41.4h0M83.6 40.5h0M82.2 42.9h0M88.2 42.6h0M83.8 38.7h0M88.0 41.6h0M82.9 39.5h0M82.9 39.5h0M83.2 42.3h0M83.1 42.0h0M80.8 44.1h0M81.3 38.2h0M82.5 40.1h0M80.4 40.9h0M83.8 39.4h0M82.6 44.1h0" stroke="#000" stroke-width="1.1" stroke-linecap="round" opacity="0.6"/>
<path d="M148.4 49.5Q149.5 46.8 152.5 48.2L154.3 46.6L156 47.5L155.6 50.5Q155.4 53.5 153.6 55.2L152.8 57.7L151.2 57.6Q149.4 54.5 148.6 52Z" fill="#000"/>
<path d="M140.7 50.6h0M139.3 50.7h0M138.9 52.8h0M138.8 45.0h0M138.9 48.8h0M140.6 49.5h0M136.4 48.2h0M135.5 45.0h0M134.3 51.9h0M137.4 46.3h0M135.3 52.5h0" stroke="#999" stroke-width="0.9" stroke-linecap="round" opacity="0.6"/>
<defs><radialGradient id="g22" cx="72" cy="82" r="1" gradientUnits="userSpaceOnUse" gradientTransform="translate(72 82) scale(18.5 24) translate(-72 -82)"><stop offset="0" stop-color="#000" stop-opacity="1"/><stop offset="0.45" stop-color="#000" stop-opacity="0.95"/><stop offset="0.62" stop-color="#111" stop-opacity="0.6"/><stop offset="0.8" stop-color="#333" stop-opacity="0.25"/><stop offset="1" stop-color="#666" stop-opacity="0"/></radialGradient><clipPath id="c22"><rect x="70.4" y="80.6" width="33.6" height="33.2"/></clipPath></defs>
<rect x="70.4" y="80.6" width="20" height="30" fill="url(#g22)" clip-path="url(#c22)"/>
<path d="M73.5 94.8h0M78.5 105.1h0M85.7 103.2h0M77.6 98.1h0M85.1 105.6h0M75.6 99.7h0M78.3 97.3h0M74.7 89.0h0M74.6 87.7h0M82.5 100.2h0M71.6 105.4h0M81.0 85.5h0M85.3 101.9h0M86.3 89.6h0M79.4 99.5h0M77.9 98.0h0M81.7 88.0h0M71.4 88.6h0M74.5 93.4h0M78.7 98.6h0M77.1 92.9h0M75.0 102.7h0M80.4 97.6h0M75.5 106.3h0M74.3 100.9h0M82.2 95.4h0M80.7 90.3h0M81.6 98.2h0M73.0 104.7h0M73.9 96.0h0M78.3 95.0h0M78.2 93.7h0M80.0 97.0h0M82.2 97.2h0M79.1 103.4h0M72.1 106.3h0M76.3 111.4h0M76.3 101.1h0M75.4 90.3h0M81.9 102.4h0M83.9 102.1h0M74.4 87.0h0M74.1 92.9h0M73.3 100.5h0M78.5 95.4h0M77.8 96.1h0M78.0 101.5h0M81.3 92.9h0M77.5 103.6h0M77.1 88.4h0M74.7 101.3h0M81.9 106.6h0M73.1 88.6h0M79.3 102.6h0M77.9 89.2h0M80.5 101.8h0M79.5 94.1h0M78.4 101.7h0M74.5 85.9h0M78.5 99.9h0M77.1 102.3h0M74.4 96.5h0M75.6 100.4h0M84.2 95.5h0M86.2 106.2h0M80.6 100.5h0M85.0 95.9h0M76.5 90.6h0M79.1 105.1h0M79.4 99.5h0M76.1 98.0h0M70.6 103.3h0M75.2 90.4h0M73.6 92.1h0M80.8 103.3h0M70.9 102.6h0M81.0 93.5h0M74.1 99.1h0M75.4 84.8h0M78.1 87.8h0M81.1 89.8h0M73.9 91.9h0M74.6 104.8h0M80.8 100.6h0M78.4 87.7h0M74.7 93.7h0M72.6 100.1h0M73.7 92.7h0M72.3 84.7h0M79.7 105.0h0M77.8 91.1h0M82.5 98.8h0M81.2 105.9h0M82.1 94.4h0M81.7 101.7h0M70.6 96.3h0M79.6 90.6h0M78.7 105.8h0M71.0 103.4h0M86.3 109.0h0M76.1 98.6h0M76.3 103.0h0M81.7 97.5h0M70.9 101.4h0M74.9 100.8h0M78.2 106.7h0M82.1 94.3h0M78.6 107.6h0M74.6 99.6h0M82.4 104.5h0M79.3 89.1h0M71.3 98.5h0M78.7 112.3h0M73.1 103.8h0M80.5 87.0h0M73.3 98.0h0M74.8 96.1h0M79.1 92.1h0M79.1 93.2h0M74.5 100.2h0M74.4 98.7h0M84.2 97.2h0M76.3 101.4h0M75.4 103.5h0M71.2 100.7h0M74.7 92.2h0M85.0 91.9h0M84.9 100.9h0M83.5 91.1h0M82.4 105.7h0M76.5 96.2h0M88.1 98.1h0M75.1 93.2h0M79.0 99.0h0M77.8 107.3h0M75.5 99.8h0M83.6 91.0h0M81.7 108.0h0M70.9 90.4h0M72.3 85.9h0M79.0 85.9h0M79.2 105.7h0M73.7 95.4h0M77.2 100.3h0M75.4 97.1h0M74.5 97.7h0M71.7 97.4h0M85.6 97.5h0M71.3 98.5h0M72.6 87.1h0M73.7 101.4h0M78.7 96.4h0M72.8 90.5h0M83.1 98.5h0M72.7 84.3h0M70.8 111.9h0M71.8 96.5h0M77.9 96.1h0M75.7 88.8h0M72.3 107.1h0M73.6 102.1h0M78.2 103.2h0M71.9 100.6h0M78.7 92.6h0M79.1 91.6h0M73.4 96.9h0M72.5 88.2h0M75.1 101.6h0M75.2 104.6h0M71.8 89.1h0M84.0 99.4h0M81.3 92.0h0M80.6 98.6h0M79.9 97.2h0M82.4 93.1h0M72.7 88.1h0M82.2 92.6h0M72.3 91.4h0M75.0 89.4h0M75.7 93.2h0M74.5 91.2h0M77.2 94.2h0M77.5 98.5h0M78.5 83.9h0M74.6 92.2h0M80.5 87.5h0M73.8 95.2h0M75.5 102.9h0M75.0 102.8h0M70.4 86.1h0M82.5 99.6h0M79.2 97.7h0M79.2 89.7h0M81.3 93.8h0M81.4 97.5h0M82.1 96.2h0M75.2 98.5h0M75.1 93.7h0M77.5 97.9h0M83.8 97.3h0M85.5 107.8h0M84.7 103.4h0M77.6 97.8h0M76.4 92.6h0M76.7 93.2h0M84.4 100.2h0M75.0 85.5h0M76.8 94.5h0M72.1 90.2h0M76.7 112.5h0M76.9 96.1h0M83.5 97.8h0M77.8 94.8h0M74.3 106.0h0M81.5 107.3h0M75.4 97.2h0M73.0 102.8h0M70.7 100.4h0M81.9 105.5h0M72.8 103.5h0M73.8 92.5h0M71.0 103.9h0M84.4 93.4h0M73.6 95.0h0M88.3 103.0h0M74.6 86.2h0M74.0 104.1h0M85.4 95.4h0M73.9 93.9h0M72.1 103.4h0M78.3 92.4h0M80.5 97.0h0M71.7 100.7h0M80.8 85.5h0M85.2 100.0h0M80.4 85.8h0M73.8 94.9h0M81.8 88.2h0M73.0 84.8h0M75.9 99.1h0M79.3 106.5h0" stroke="#111" stroke-width="0.84" stroke-linecap="round" opacity="0.3"/>
<path d="M77.3 103.8h0M70.9 101.3h0M72.7 105.6h0M74.8 111.7h0M76.0 100.7h0M80.4 108.8h0M75.4 102.1h0M78.2 101.8h0M75.9 107.4h0M77.3 110.6h0M72.1 108.9h0M71.5 107.8h0M75.6 106.0h0M78.4 104.9h0M78.9 108.5h0M75.5 102.7h0M72.4 102.9h0M74.3 104.9h0M85.4 107.6h0M77.7 101.6h0M72.5 103.7h0M75.7 100.9h0M80.6 102.7h0M78.8 95.7h0M75.0 106.1h0M75.7 107.4h0M76.0 105.6h0M76.1 104.2h0M72.1 102.7h0M81.5 111.9h0M74.8 110.2h0M73.3 101.5h0M73.0 105.8h0M85.6 102.4h0M75.2 106.1h0M74.9 108.7h0M81.2 100.0h0M75.6 103.9h0M76.2 98.9h0M76.8 105.8h0M75.3 95.5h0M73.7 102.0h0M77.4 107.2h0M74.9 107.1h0M72.9 105.3h0M75.1 107.2h0M74.8 104.4h0M74.5 102.4h0M82.8 107.1h0M79.9 98.8h0M77.4 108.4h0M81.6 110.3h0M77.7 100.3h0M72.0 106.1h0M76.8 100.9h0M73.7 103.4h0M75.2 106.3h0M74.0 100.1h0M79.3 111.4h0M74.6 109.1h0M76.6 107.6h0M76.7 101.9h0M77.0 109.0h0M71.9 112.9h0M82.3 112.3h0M82.0 108.0h0M73.8 102.6h0M72.2 105.5h0M74.9 107.7h0M83.0 104.9h0M77.4 106.9h0M76.0 104.2h0M74.6 101.7h0M75.6 104.9h0M76.1 101.6h0M75.1 105.2h0M77.1 100.7h0M76.5 108.9h0M77.1 103.5h0M73.3 104.1h0M77.6 111.2h0M74.4 102.4h0M76.3 105.8h0M71.8 102.1h0M74.6 107.7h0M70.8 100.9h0M76.7 100.1h0M75.4 106.4h0M74.6 100.9h0M74.8 103.7h0M76.2 101.6h0M78.8 98.3h0M74.4 105.0h0M78.4 102.6h0M76.9 102.7h0M77.6 111.9h0M73.6 106.8h0M71.8 108.9h0M79.2 105.1h0M71.0 106.6h0M79.0 109.4h0M77.8 97.7h0M72.6 110.7h0M70.7 109.5h0M81.6 108.0h0M78.9 103.7h0M70.7 104.6h0M74.3 104.8h0M77.4 104.4h0M75.7 106.7h0M75.0 112.4h0" stroke="#333" stroke-width="0.8" stroke-linecap="round" opacity="0.28"/>
<path d="M134.5 105Q136 101.8 141 101.6Q145.5 101.4 146.2 103.5Q146.2 107.5 143 110Q139 111.2 136 110.6Q134.3 108.5 134.5 105Z" fill="#000"/>
<path d="M148.3 106.2h0M146.4 104.7h0M151.0 106.3h0M143.8 104.9h0M146.6 105.1h0M150.3 103.7h0" stroke="#aaa" stroke-width="0.8" stroke-linecap="round" opacity="0.6"/>
<circle cx="155.5" cy="107.5" r="0.7" fill="#bbb" stroke="none" stroke-width="1"/>
<path d="M78.5 129Q80 126.2 84 126.2Q88.5 126.2 92.3 127Q89 130.8 85 131.4Q80.5 131.6 78.5 129Z" fill="#111" opacity="0.85"/>
<path d="M81.2 139.5Q81.8 136.2 84 136.3Q86.8 136.6 86.8 140Q86.4 144.2 84.3 145.4Q81.6 144.2 81.2 139.5Z" fill="#111" opacity="0.85"/>
<path d="M86.1 129.0h0M80.7 128.9h0M84.2 129.5h0M83.1 129.2h0M79.2 127.4h0M87.0 130.2h0M84.5 128.0h0M88.0 126.1h0M81.9 129.7h0M86.6 127.5h0M78.5 130.7h0M85.0 127.6h0M84.7 130.0h0M76.2 130.2h0M86.9 126.1h0M87.0 126.5h0M88.1 129.3h0M91.7 128.0h0M84.5 130.2h0M82.5 127.9h0M83.3 128.7h0M81.0 129.4h0M86.2 128.9h0M89.9 128.4h0M88.7 128.1h0M86.9 126.3h0M85.1 128.6h0M82.9 128.0h0M83.4 127.9h0M77.5 128.0h0M82.7 128.1h0M81.1 128.6h0M87.0 128.5h0M82.9 130.6h0M87.6 130.0h0M88.2 128.4h0M84.1 130.2h0M82.7 128.6h0M85.7 129.3h0M83.6 130.1h0M83.9 129.7h0M87.9 129.7h0M86.8 127.3h0M80.3 128.0h0M86.0 130.8h0M80.6 129.2h0M81.8 127.8h0M83.6 129.7h0M85.2 130.3h0M81.3 130.0h0M87.5 128.9h0M86.0 128.1h0M81.0 128.3h0M82.4 132.6h0M82.9 130.9h0M85.1 129.2h0M86.9 127.8h0M87.4 129.3h0M79.6 129.6h0M86.3 129.4h0M89.6 128.3h0M86.1 129.8h0M81.6 130.4h0M79.9 127.1h0M86.2 127.4h0M84.1 126.7h0M84.7 127.3h0M85.6 126.8h0M85.9 128.5h0M84.7 128.7h0M84.9 127.1h0M76.3 128.8h0M81.5 128.2h0M85.9 126.2h0M82.1 128.0h0M81.1 129.2h0M84.1 127.7h0M81.3 129.8h0M82.4 129.6h0M85.9 126.3h0M81.0 128.8h0M85.6 129.8h0M87.1 130.1h0M83.3 128.5h0M87.0 128.2h0M87.9 126.7h0M86.6 128.6h0M78.2 130.1h0M85.5 128.8h0M81.1 128.2h0M89.3 127.7h0M73.4 127.7h0M80.7 128.6h0M83.2 127.6h0M81.8 130.2h0M79.9 131.3h0M82.8 127.4h0M87.0 129.5h0M81.2 129.8h0M78.6 127.6h0M88.1 128.5h0M80.3 129.5h0M87.4 128.8h0M78.7 128.3h0M85.8 129.8h0M90.4 128.5h0M83.0 128.8h0M88.4 127.6h0M88.7 125.2h0M87.1 127.9h0M86.0 129.7h0M80.7 128.7h0M85.3 129.6h0M81.5 127.5h0M78.3 132.1h0M83.9 128.5h0M79.7 130.0h0M82.8 130.7h0M87.2 128.8h0M86.8 127.4h0M83.5 128.1h0M80.4 128.8h0M84.0 130.7h0M73.8 127.9h0M81.6 128.2h0M85.9 129.3h0M84.6 128.2h0M86.1 129.3h0M78.6 128.5h0M80.1 127.3h0M85.0 128.9h0M84.9 127.7h0M83.9 127.6h0M85.7 129.7h0M90.1 130.4h0M81.9 128.2h0M81.5 129.2h0M90.8 129.7h0M77.5 127.2h0M80.4 129.5h0M84.5 129.2h0M90.2 127.7h0M81.8 131.4h0M85.6 127.8h0M78.0 126.8h0M76.7 128.9h0M84.6 130.1h0M84.1 127.9h0M82.1 131.3h0M78.8 129.0h0M84.6 129.6h0M83.2 129.4h0M87.1 128.6h0M83.0 128.6h0M81.4 128.5h0M83.5 129.1h0M88.8 130.5h0M83.1 129.6h0M85.4 129.8h0M84.6 129.1h0M83.0 127.8h0M87.3 130.5h0M86.6 129.4h0M85.4 128.2h0M78.8 129.7h0M85.1 128.1h0M81.4 130.5h0M78.7 131.1h0M86.5 131.9h0M82.2 128.8h0M82.9 129.0h0M83.8 127.8h0M87.9 127.8h0M82.9 129.5h0M82.8 128.2h0M85.6 128.3h0M80.5 128.7h0M83.8 131.0h0M81.0 130.1h0M82.0 128.3h0M83.5 129.2h0M87.3 131.1h0M82.5 130.5h0M87.7 129.9h0M82.1 130.0h0M84.2 129.3h0M83.6 129.7h0M88.1 130.3h0M83.8 130.1h0M89.1 127.6h0M89.2 127.1h0M86.2 129.6h0M89.2 129.2h0M83.0 127.8h0M80.5 129.8h0M83.7 127.9h0M86.2 127.8h0M83.1 128.2h0M89.8 130.7h0M84.0 126.8h0" stroke="#111" stroke-width="1.0" stroke-linecap="round" opacity="0.45"/>
<path d="M84.8 140.5h0M84.9 142.0h0M83.6 143.1h0M85.9 140.9h0M83.4 138.9h0M85.6 137.0h0M83.9 138.1h0M81.4 142.1h0M84.1 140.4h0M85.9 135.8h0M84.1 141.2h0M85.9 137.0h0M85.6 141.0h0M86.9 143.7h0M85.3 146.7h0M84.2 139.0h0M83.5 137.5h0M84.1 134.7h0M84.0 141.6h0M86.2 139.3h0M87.0 138.3h0M83.9 134.7h0M82.7 137.9h0M87.1 141.9h0M82.0 141.9h0M85.1 139.6h0M84.2 139.4h0M83.1 135.1h0M84.0 144.1h0M87.0 139.5h0M82.7 139.7h0M86.0 141.3h0M83.1 141.4h0M83.8 141.8h0M83.4 136.0h0M84.3 142.5h0M82.0 140.0h0M85.9 139.2h0M82.9 146.2h0M85.8 143.3h0M82.4 145.1h0M81.0 138.8h0M85.6 144.2h0M82.4 138.4h0M84.6 134.7h0M85.4 141.9h0M83.3 141.9h0M85.7 141.2h0M85.2 144.7h0M83.3 140.8h0M83.2 143.3h0M83.4 141.7h0M84.5 140.5h0M87.5 140.1h0M86.9 142.7h0M86.8 139.8h0M86.0 142.5h0M83.0 141.1h0M84.0 140.2h0M86.7 138.2h0M80.9 135.3h0M83.3 138.4h0M84.2 141.9h0M87.6 141.2h0M85.1 138.2h0M85.3 144.2h0M86.8 134.6h0M85.9 144.9h0M85.8 136.0h0M83.6 142.0h0M85.0 138.0h0M82.5 143.1h0M81.6 144.4h0M84.2 141.2h0M81.6 138.6h0M85.5 136.1h0M88.2 136.2h0M81.8 140.4h0M85.1 142.4h0M83.5 139.7h0M83.7 138.6h0M79.2 143.1h0M84.7 140.8h0M83.0 141.0h0M84.2 140.1h0M86.3 135.3h0M84.7 137.2h0M83.6 144.6h0M82.1 140.0h0M83.1 143.0h0M82.3 135.5h0M85.2 139.3h0M83.6 143.4h0M82.5 139.2h0M84.5 141.5h0M83.2 143.3h0M88.5 139.1h0M87.8 134.2h0M86.9 139.3h0M84.5 139.3h0M83.0 136.6h0M83.4 144.0h0M86.4 139.3h0M83.2 138.3h0M81.9 145.5h0M85.5 140.6h0M83.3 137.4h0M86.7 142.5h0M82.4 143.1h0M82.1 142.1h0M82.4 139.1h0M85.2 141.5h0M86.1 137.9h0M87.2 144.2h0M84.2 141.6h0M82.7 139.9h0M81.7 140.6h0M84.6 144.2h0M86.0 142.6h0M83.5 139.7h0M83.5 140.9h0M80.5 142.5h0M81.2 138.8h0M84.2 138.8h0M87.4 140.0h0M87.2 143.7h0M83.2 141.5h0M86.7 139.3h0M84.4 138.7h0M84.3 139.3h0M84.4 143.2h0M86.9 140.7h0M84.6 142.8h0M83.6 137.3h0M86.3 137.6h0M86.0 137.5h0M87.7 137.3h0M85.8 144.6h0M82.4 144.6h0M82.6 135.2h0M85.6 142.3h0M83.8 133.0h0M84.1 139.4h0M83.5 139.5h0M80.8 138.7h0M87.7 144.8h0M83.5 138.2h0M85.0 143.4h0M85.6 136.9h0M84.5 140.7h0M87.0 143.7h0M85.2 143.8h0M83.4 144.7h0M83.4 141.4h0M86.0 137.7h0M82.9 135.2h0M84.5 140.1h0M83.6 141.7h0M80.1 140.2h0M84.4 139.5h0M85.7 145.3h0M83.3 137.6h0M83.0 140.6h0M85.3 137.8h0M86.1 137.3h0M85.8 141.5h0M85.1 146.5h0M83.7 139.8h0M85.1 142.8h0M81.6 141.1h0M82.8 142.1h0M86.8 140.4h0M84.0 140.8h0M78.5 142.5h0M85.3 140.8h0M83.4 138.2h0M83.9 143.8h0M84.0 144.2h0M79.3 139.0h0M84.7 140.3h0M81.0 138.4h0M86.6 136.6h0M82.3 137.1h0M83.1 142.2h0M85.3 134.5h0M87.0 138.6h0M83.1 145.1h0M84.0 136.7h0M83.0 138.2h0M82.3 139.3h0M85.9 141.3h0M81.5 148.3h0M82.3 140.6h0M84.3 142.5h0M83.6 141.6h0M88.2 140.6h0M82.1 141.2h0M82.7 139.2h0M84.6 141.3h0M83.7 142.7h0" stroke="#111" stroke-width="1.0" stroke-linecap="round" opacity="0.45"/>
<path d="M82.3 127.0h0M86.4 134.2h0M87.7 132.0h0M85.2 139.4h0M72.6 125.5h0M78.7 147.8h0M75.7 144.0h0M87.2 140.8h0M85.6 133.2h0M83.0 138.7h0M84.6 142.4h0M82.2 131.6h0M80.8 140.2h0M76.6 127.4h0M81.4 132.8h0M81.7 135.1h0M81.8 140.6h0M84.9 146.2h0M87.1 128.9h0M85.4 134.4h0M79.9 148.8h0M80.6 130.4h0M81.4 130.4h0M86.9 139.9h0M88.4 140.2h0M80.6 145.1h0M80.5 133.4h0M82.4 137.3h0M87.6 132.3h0M84.4 136.8h0M78.2 128.6h0M82.2 140.1h0M84.2 140.7h0M83.2 133.5h0M84.6 129.3h0M77.8 134.4h0M77.5 133.0h0M80.1 132.7h0M82.8 130.8h0M81.4 123.8h0M83.6 130.2h0M79.9 138.9h0M73.6 134.2h0M83.4 137.8h0M77.2 138.8h0M83.6 129.5h0M85.9 136.6h0M83.1 133.5h0M85.1 137.8h0M87.4 140.5h0M80.6 135.3h0M86.5 134.2h0M84.5 141.0h0M83.5 138.7h0M83.5 131.1h0M87.7 136.0h0M80.6 131.5h0M84.4 128.6h0M79.1 152.5h0M88.1 145.2h0M88.3 141.6h0M76.5 146.2h0M87.8 140.8h0M75.4 146.6h0M88.3 133.2h0M83.5 143.0h0M82.7 145.5h0M83.3 142.4h0M83.3 125.5h0M84.1 147.2h0M87.4 150.3h0M85.1 132.4h0M82.3 144.0h0M74.6 138.5h0" stroke="#555" stroke-width="0.8" stroke-linecap="round" opacity="0.4"/>
<path d="M147.8 150Q148.5 147 151 147.2L153.2 146.6L154.2 149Q154.2 153 153 155L152.6 156.3L149.5 156.3Q148 153 147.8 150Z" fill="#000"/>
<path d="M138.6 153.6h0M135.2 149.7h0M133.4 149.0h0M134.8 153.7h0M137.8 150.0h0M141.3 146.1h0M136.9 151.4h0" stroke="#999" stroke-width="0.8" stroke-linecap="round" opacity="0.6"/>
<text x="41" y="31" font-size="4.4" text-anchor="middle" font-weight="bold" font-family="'Liberation Serif',serif" fill="#222" stroke="#222" stroke-width="0.12">GMP</text>
<text x="45.6" y="37" font-size="4.4" text-anchor="middle" font-weight="bold" font-family="'Liberation Serif',serif" fill="#222" stroke="#222" stroke-width="0.12">31</text>
<text x="71.6" y="29.4" font-size="4.4" text-anchor="start" font-weight="bold" font-family="'Liberation Serif',serif" fill="#222" stroke="#222" stroke-width="0.12">LK</text>
<text x="71.6" y="35.0" font-size="4.4" text-anchor="start" font-weight="bold" font-family="'Liberation Serif',serif" fill="#222" stroke="#222" stroke-width="0.12">8.2</text>
<text x="92.6" y="29.4" font-size="4.4" text-anchor="start" font-weight="bold" font-family="'Liberation Serif',serif" fill="#222" stroke="#222" stroke-width="0.12">0.8</text>
<text x="91.3" y="35.0" font-size="4.4" text-anchor="start" font-weight="bold" font-family="'Liberation Serif',serif" fill="#222" stroke="#222" stroke-width="0.12">LSK</text>
<text x="139.9" y="44.0" font-size="4.4" text-anchor="middle" font-weight="bold" font-family="'Liberation Serif',serif" fill="#222" stroke="#222" stroke-width="0.12">13.9</text>
<text x="46.2" y="93.2" font-size="4.4" text-anchor="middle" font-weight="bold" font-family="'Liberation Serif',serif" fill="#222" stroke="#222" stroke-width="0.12">34</text>
<text x="96.3" y="86.8" font-size="4.4" text-anchor="middle" font-weight="bold" font-family="'Liberation Serif',serif" fill="#222" stroke="#222" stroke-width="0.12">&lt;0.1</text>
<text x="71.3" y="92.8" font-size="4.4" text-anchor="start" font-weight="bold" font-family="'Liberation Serif',serif" fill="#111" stroke="#111" stroke-width="0.12" paint-order="stroke" style="stroke:#999;stroke-width:1.1px">71.4</text>
<text x="137.8" y="100.2" font-size="4.4" text-anchor="middle" font-weight="bold" font-family="'Liberation Serif',serif" fill="#222" stroke="#222" stroke-width="0.12">82.2</text>
<text x="46" y="134.5" font-size="4.4" text-anchor="middle" font-weight="bold" font-family="'Liberation Serif',serif" fill="#222" stroke="#222" stroke-width="0.12">30</text>
<text x="72.0" y="135.0" font-size="4.4" text-anchor="start" font-weight="bold" font-family="'Liberation Serif',serif" fill="#222" stroke="#222" stroke-width="0.12">15.5</text>
<text x="98.4" y="128.3" font-size="4.4" text-anchor="middle" font-weight="bold" font-family="'Liberation Serif',serif" fill="#222" stroke="#222" stroke-width="0.12">7.2</text>
<text x="138.5" y="142.6" font-size="4.4" text-anchor="middle" font-weight="bold" font-family="'Liberation Serif',serif" fill="#222" stroke="#222" stroke-width="0.12">10.2</text>
<line x1="60" y1="24.7" x2="70.1" y2="24.7" stroke="#6fa3a3" stroke-width="1.0"/>
<path d="M56.2 24.7L61.2 22.3L61.2 27.099999999999998Z" stroke="none" stroke-width="1" fill="#4a8486"/>
<line x1="60" y1="82.1" x2="70.1" y2="82.1" stroke="#6fa3a3" stroke-width="1.0"/>
<path d="M56.2 82.1L61.2 79.69999999999999L61.2 84.5Z" stroke="none" stroke-width="1" fill="#4a8486"/>
<line x1="60" y1="123.7" x2="70.1" y2="123.7" stroke="#6fa3a3" stroke-width="1.0"/>
<path d="M56.2 123.7L61.2 121.3L61.2 126.10000000000001Z" stroke="none" stroke-width="1" fill="#4a8486"/>
<text x="15.6" y="40.25" font-size="7.6" text-anchor="middle" font-weight="normal" font-family="'Liberation Serif',serif" fill="#222" stroke="#222" stroke-width="0.22" transform="rotate(-90 15.6 40.25)">Fcγ<tspan>R</tspan></text>
<text x="63.4" y="40.25" font-size="7.6" text-anchor="middle" font-weight="normal" font-family="'Liberation Serif',serif" fill="#222" stroke="#222" stroke-width="0.22" transform="rotate(-90 63.4 40.25)">c-Kit</text>
<text x="123.4" y="40.25" font-size="7.6" text-anchor="middle" font-weight="normal" font-family="'Liberation Serif',serif" fill="#222" stroke="#222" stroke-width="0.22" transform="rotate(-90 123.4 40.25)">7AAD</text>
<text x="15.6" y="97.1" font-size="7.6" text-anchor="middle" font-weight="normal" font-family="'Liberation Serif',serif" fill="#222" stroke="#222" stroke-width="0.22" transform="rotate(-90 15.6 97.1)">Fcγ<tspan>R</tspan></text>
<text x="63.4" y="97.1" font-size="7.6" text-anchor="middle" font-weight="normal" font-family="'Liberation Serif',serif" fill="#222" stroke="#222" stroke-width="0.22" transform="rotate(-90 63.4 97.1)">c-Kit</text>
<text x="123.4" y="97.1" font-size="7.6" text-anchor="middle" font-weight="normal" font-family="'Liberation Serif',serif" fill="#222" stroke="#222" stroke-width="0.22" transform="rotate(-90 123.4 97.1)">7AAD</text>
<text x="15.6" y="139.35" font-size="7.6" text-anchor="middle" font-weight="normal" font-family="'Liberation Serif',serif" fill="#222" stroke="#222" stroke-width="0.22" transform="rotate(-90 15.6 139.35)">Fcγ<tspan>R</tspan></text>
<text x="63.4" y="139.35" font-size="7.6" text-anchor="middle" font-weight="normal" font-family="'Liberation Serif',serif" fill="#222" stroke="#222" stroke-width="0.22" transform="rotate(-90 63.4 139.35)">c-Kit</text>
<text x="123.4" y="139.35" font-size="7.6" text-anchor="middle" font-weight="normal" font-family="'Liberation Serif',serif" fill="#222" stroke="#222" stroke-width="0.22" transform="rotate(-90 123.4 139.35)">7AAD</text>
<text x="37.6" y="68.2" font-size="7.6" text-anchor="middle" font-weight="normal" font-family="'Liberation Serif',serif" fill="#222" stroke="#222" stroke-width="0.22">CD34</text>
<text x="87.4" y="68.2" font-size="7.6" text-anchor="middle" font-weight="normal" font-family="'Liberation Serif',serif" fill="#222" stroke="#222" stroke-width="0.22">Sca-1</text>
<text x="145.5" y="68.2" font-size="7.6" text-anchor="middle" font-weight="normal" font-family="'Liberation Serif',serif" fill="#222" stroke="#222" stroke-width="0.22">Ly5.1</text>
<text x="37.6" y="167.6" font-size="7.6" text-anchor="middle" font-weight="normal" font-family="'Liberation Serif',serif" fill="#222" stroke="#222" stroke-width="0.22">CD34</text>
<text x="87.4" y="167.6" font-size="7.6" text-anchor="middle" font-weight="normal" font-family="'Liberation Serif',serif" fill="#222" stroke="#222" stroke-width="0.22">Sca-1</text>
<text x="145.5" y="167.6" font-size="7.6" text-anchor="middle" font-weight="normal" font-family="'Liberation Serif',serif" fill="#222" stroke="#222" stroke-width="0.22">Ly5.1</text>
<text x="0" y="0" font-size="7.0" text-anchor="middle" font-weight="bold" font-family="'Liberation Serif',serif" fill="#222" stroke="#222" stroke-width="0.33999999999999997" transform="translate(87.0 13.2) scale(1 1.08)">Lin<tspan font-size="4.5" dy="-3">-</tspan></text>
<line x1="87.4" y1="14.6" x2="87.4" y2="18.5" stroke="#000" stroke-width="1.0"/>
<path d="M85.2 17.4L89.6 17.4L87.4 22.8Z" stroke="#000" stroke-width="0.4" fill="#000"/>
<text x="0" y="0" font-size="7.0" text-anchor="middle" font-weight="bold" font-family="'Liberation Serif',serif" fill="#222" stroke="#222" stroke-width="0.33999999999999997" transform="translate(145.4 13.3) scale(1 1.1)">BM</text>
<line x1="145.4" y1="14.6" x2="145.4" y2="18.5" stroke="#000" stroke-width="1.0"/>
<path d="M143.2 17.4L147.6 17.4L145.4 22.8Z" stroke="#000" stroke-width="0.4" fill="#000"/>
<text x="165.6" y="40.4" font-size="7.3" text-anchor="start" font-weight="bold" font-family="'Liberation Serif',serif" fill="#222" stroke="#222" stroke-width="0.33999999999999997">100%</text>
<text x="165.6" y="49.0" font-size="7.3" text-anchor="start" font-weight="bold" font-family="'Liberation Serif',serif" fill="#222" stroke="#222" stroke-width="0.33999999999999997">of mice</text>
<text x="165.2" y="96.7" font-size="7.3" text-anchor="start" font-weight="bold" font-family="'Liberation Serif',serif" fill="#222" stroke="#222" stroke-width="0.33999999999999997">75%</text>
<text x="165.2" y="105.1" font-size="7.3" text-anchor="start" font-weight="bold" font-family="'Liberation Serif',serif" fill="#222" stroke="#222" stroke-width="0.33999999999999997">of mice</text>
<text x="165.2" y="140.2" font-size="7.3" text-anchor="start" font-weight="bold" font-family="'Liberation Serif',serif" fill="#222" stroke="#222" stroke-width="0.33999999999999997">25%</text>
<text x="165.2" y="148.8" font-size="7.3" text-anchor="start" font-weight="bold" font-family="'Liberation Serif',serif" fill="#222" stroke="#222" stroke-width="0.33999999999999997">of mice</text>
<line x1="194.4" y1="17.3" x2="194.4" y2="61.6" stroke="#000" stroke-width="1.3"/>
<line x1="194.4" y1="80.0" x2="194.4" y2="156.8" stroke="#000" stroke-width="1.3"/>
<text x="195.8" y="44.8" font-size="9.2" text-anchor="start" font-weight="bold" font-family="'Liberation Serif',serif" fill="#222" stroke="#222" stroke-width="0.33999999999999997">Wt</text>
<text x="196.1" y="121.7" font-size="9.4" text-anchor="start" font-weight="bold" font-family="'Liberation Serif',serif" fill="#222" stroke="#222" stroke-width="0.33999999999999997">Smad4<tspan font-size="5.2" dy="-3.7">-/-</tspan></text>
<line x1="55.5" y1="203.3" x2="55.5" y2="272.3" stroke="#c8c8c8" stroke-width="0.7"/>
<line x1="55.5" y1="272.3" x2="178" y2="272.3" stroke="#c8c8c8" stroke-width="0.7"/>
<text x="50.7" y="274.90000000000003" font-size="7.3" text-anchor="end" font-weight="normal" font-family="'Liberation Serif',serif" fill="#222" stroke="#222" stroke-width="0.22">0</text>
<text x="50.7" y="261.3" font-size="7.3" text-anchor="end" font-weight="normal" font-family="'Liberation Serif',serif" fill="#222" stroke="#222" stroke-width="0.22">20</text>
<text x="50.7" y="247.70000000000002" font-size="7.3" text-anchor="end" font-weight="normal" font-family="'Liberation Serif',serif" fill="#222" stroke="#222" stroke-width="0.22">40</text>
<text x="50.7" y="234.1" font-size="7.3" text-anchor="end" font-weight="normal" font-family="'Liberation Serif',serif" fill="#222" stroke="#222" stroke-width="0.22">60</text>
<text x="50.7" y="220.5" font-size="7.3" text-anchor="end" font-weight="normal" font-family="'Liberation Serif',serif" fill="#222" stroke="#222" stroke-width="0.22">80</text>
<text x="50.7" y="206.9" font-size="7.3" text-anchor="end" font-weight="normal" font-family="'Liberation Serif',serif" fill="#222" stroke="#222" stroke-width="0.22">100</text>
<text x="55.5" y="281.8" font-size="7.3" text-anchor="middle" font-weight="normal" font-family="'Liberation Serif',serif" fill="#222" stroke="#222" stroke-width="0.22">0</text>
<text x="86.3" y="281.8" font-size="7.3" text-anchor="middle" font-weight="normal" font-family="'Liberation Serif',serif" fill="#222" stroke="#222" stroke-width="0.22">20</text>
<text x="117.1" y="281.8" font-size="7.3" text-anchor="middle" font-weight="normal" font-family="'Liberation Serif',serif" fill="#222" stroke="#222" stroke-width="0.22">40</text>
<text x="147.9" y="281.8" font-size="7.3" text-anchor="middle" font-weight="normal" font-family="'Liberation Serif',serif" fill="#222" stroke="#222" stroke-width="0.22">60</text>
<text x="178.7" y="281.8" font-size="7.3" text-anchor="middle" font-weight="normal" font-family="'Liberation Serif',serif" fill="#222" stroke="#222" stroke-width="0.22">80</text>
<text x="117.6" y="293.6" font-size="7.2" text-anchor="middle" font-weight="normal" font-family="'Liberation Serif',serif" fill="#222" stroke="#222" stroke-width="0.22">Weeks</text>
<text x="33.9" y="233.7" font-size="7.4" text-anchor="middle" font-weight="normal" font-family="'Liberation Serif',serif" fill="#222" stroke="#222" stroke-width="0.22" transform="rotate(-90 33.9 233.7)">Remaining mice (%)</text>
<line x1="55.5" y1="204.3" x2="177" y2="204.3" stroke="#5c6256" stroke-width="1.1" stroke-dasharray="1.2 1.1"/>
<path d="M55.5 204.3H134.3V211.1H151.6V217.9H177" stroke="#4560ae" stroke-width="1.1" fill="none" stroke-dasharray="1.2 1.2"/>
<path d="M55.5 204.3H113.3V209.3H122.7V216.8H140.3V224.3H147.9V230.3H153.5V238.3H177" stroke="#b8323f" stroke-width="1.1" fill="none" stroke-dasharray="1.2 1.2"/>
<path d="M55.5 204.3H109.3V213.6H112.4V222.5H118V238.3H153.5" stroke="#4560ae" stroke-width="1.6" fill="none"/>
<path d="M108 204.3H115.2" stroke="#4560ae" stroke-width="1.5" fill="none"/>
<path d="M153.5 238.3H177" stroke="#b8323f" stroke-width="1.6" fill="none"/>
<path d="M55.5 204.3H93V221.2H95.7V229.6H106.9V247H109.3V255.9H177" stroke="#b8323f" stroke-width="1.7" fill="none"/>
<text x="0" y="0" font-size="5.2" text-anchor="start" font-weight="normal" font-family="'Liberation Serif',serif" fill="#222" stroke="#222" stroke-width="0.22" transform="translate(158.4 232.4) scale(1 1.25)"><tspan font-style="italic">P</tspan> = 0.16</text>
<text x="0" y="0" font-size="5.4" text-anchor="start" font-weight="normal" font-family="'Liberation Serif',serif" fill="#222" stroke="#222" stroke-width="0.22" transform="translate(117 251.1) scale(1 1.25)"><tspan font-style="italic">P</tspan> = 0.008</text>
<line x1="53.4" y1="304.8" x2="63.9" y2="304.8" stroke="#5c6256" stroke-width="1.2" stroke-dasharray="1.3 1.3"/>
<text x="65.8" y="307.3" font-size="7.15" text-anchor="start" font-weight="normal" font-family="'Liberation Serif',serif" fill="#222" stroke="#222" stroke-width="0.22">Mig</text>
<line x1="53.4" y1="313.8" x2="63.9" y2="313.8" stroke="#4560ae" stroke-width="1.2" stroke-dasharray="1.3 1.3"/>
<text x="65.8" y="316.3" font-size="7.15" text-anchor="start" font-weight="normal" font-family="'Liberation Serif',serif" fill="#222" stroke="#222" stroke-width="0.22">NUP98-HOXA9/Wt</text>
<line x1="53.4" y1="322.6" x2="63.9" y2="322.6" stroke="#b8323f" stroke-width="1.2" stroke-dasharray="1.3 1.3"/>
<text x="65.8" y="325.1" font-size="7.15" text-anchor="start" font-weight="normal" font-family="'Liberation Serif',serif" fill="#222" stroke="#222" stroke-width="0.22">NUP98-HOXA9/Smad4<tspan font-size="4" dy="-2.6">-/-</tspan></text>
<line x1="53.4" y1="331.4" x2="63.9" y2="331.4" stroke="#4560ae" stroke-width="1.6"/>
<text x="65.8" y="333.9" font-size="7.15" text-anchor="start" font-weight="normal" font-family="'Liberation Serif',serif" fill="#222" stroke="#222" stroke-width="0.22">HOXA9/Wt</text>
<line x1="53.4" y1="340.5" x2="63.9" y2="340.5" stroke="#b8323f" stroke-width="1.6"/>
<text x="65.8" y="343.0" font-size="7.15" text-anchor="start" font-weight="normal" font-family="'Liberation Serif',serif" fill="#222" stroke="#222" stroke-width="0.22">HOXA9/Smad4<tspan font-size="4" dy="-2.6">-/-</tspan></text>
<line x1="254" y1="55" x2="254" y2="114.6" stroke="#e4e4e4" stroke-width="0.6"/>
<line x1="253.5" y1="114.7" x2="353.5" y2="114.7" stroke="#d0d0d0" stroke-width="0.7"/>
<text x="251.2" y="116.7" font-size="6.2" text-anchor="end" font-weight="normal" font-family="'Liberation Serif',serif" fill="#222" stroke="#222" stroke-width="0.22">0</text>
<text x="251.2" y="104.95" font-size="6.2" text-anchor="end" font-weight="normal" font-family="'Liberation Serif',serif" fill="#222" stroke="#222" stroke-width="0.22">5</text>
<text x="251.2" y="93.2" font-size="6.2" text-anchor="end" font-weight="normal" font-family="'Liberation Serif',serif" fill="#222" stroke="#222" stroke-width="0.22">10</text>
<text x="251.2" y="81.45" font-size="6.2" text-anchor="end" font-weight="normal" font-family="'Liberation Serif',serif" fill="#222" stroke="#222" stroke-width="0.22">15</text>
<text x="251.2" y="69.7" font-size="6.2" text-anchor="end" font-weight="normal" font-family="'Liberation Serif',serif" fill="#222" stroke="#222" stroke-width="0.22">20</text>
<text x="251.2" y="57.95" font-size="6.2" text-anchor="end" font-weight="normal" font-family="'Liberation Serif',serif" fill="#222" stroke="#222" stroke-width="0.22">25</text>
<text x="253.8" y="122.9" font-size="6.2" text-anchor="middle" font-weight="normal" font-family="'Liberation Serif',serif" fill="#222" stroke="#222" stroke-width="0.22">7</text>
<text x="286.7" y="122.9" font-size="6.2" text-anchor="middle" font-weight="normal" font-family="'Liberation Serif',serif" fill="#222" stroke="#222" stroke-width="0.22">17</text>
<text x="319.6" y="122.9" font-size="6.2" text-anchor="middle" font-weight="normal" font-family="'Liberation Serif',serif" fill="#222" stroke="#222" stroke-width="0.22">27</text>
<text x="352.5" y="122.9" font-size="6.2" text-anchor="middle" font-weight="normal" font-family="'Liberation Serif',serif" fill="#222" stroke="#222" stroke-width="0.22">37</text>
<text x="306.7" y="129.8" font-size="7.2" text-anchor="middle" font-weight="normal" font-family="'Liberation Serif',serif" fill="#222" stroke="#222" stroke-width="0.22">Weeks</text>
<text x="273.4" y="35.6" font-size="7.4" text-anchor="start" font-weight="normal" font-family="'Liberation Serif',serif" fill="#222" stroke="#222" stroke-width="0.22">WBC (10<tspan font-size="4.2" dy="-2.8">6</tspan><tspan dy="2.8"> cells/mL)</tspan></text>
<line x1="261.8" y1="51" x2="271" y2="51" stroke="#6a6ac0" stroke-width="1.6"/>
<text x="273.9" y="53.6" font-size="7.3" text-anchor="start" font-weight="normal" font-family="'Liberation Serif',serif" fill="#222" stroke="#222" stroke-width="0.22">Wt</text>
<line x1="261.8" y1="59.7" x2="271" y2="59.7" stroke="#b84a3c" stroke-width="1.6"/>
<text x="273.9" y="62.3" font-size="7.3" text-anchor="start" font-weight="normal" font-family="'Liberation Serif',serif" fill="#222" stroke="#222" stroke-width="0.22">Smad4<tspan font-size="4.2" dy="-2.8">-/-</tspan></text>
<path d="M253.8 101.6 L270.2 100.4 L286.7 98.0 L306.4 106.3 L319.6 88.7 L345.9 72.2" stroke="rgba(115,125,210,0.75)" stroke-width="0.8" fill="none"/>
<path d="M253.8 100.4 L270.2 98.0 L286.7 93.3 L306.4 95.7 L319.6 74.5 L345.9 75.7" stroke="rgba(115,125,210,0.75)" stroke-width="0.8" fill="none"/>
<path d="M253.8 102.8 L270.2 99.2 L286.7 96.9 L306.4 93.3 L319.6 86.3 L345.9 86.8" stroke="rgba(115,125,210,0.75)" stroke-width="0.8" fill="none"/>
<path d="M253.8 95.7 L270.2 95.7 L286.7 93.3 L306.4 91.0 L319.6 84.0 L345.9 79.2" stroke="rgba(115,125,210,0.75)" stroke-width="0.8" fill="none"/>
<path d="M253.8 101.6 L270.2 102.8 L286.7 99.2 L306.4 98.0 L319.6 91.0 L345.9 80.4" stroke="rgba(115,125,210,0.75)" stroke-width="0.8" fill="none"/>
<path d="M253.8 100.4 L270.2 96.9 L286.7 100.4 L306.4 91.0 L319.6 79.2 L345.9 69.8" stroke="rgba(115,125,210,0.75)" stroke-width="0.8" fill="none"/>
<path d="M253.8 102.8 L270.2 100.4 L286.7 95.7 L306.4 94.5 L319.6 85.1 L345.9 86.3" stroke="rgba(115,125,210,0.75)" stroke-width="0.8" fill="none"/>
<path d="M253.8 98.0 L270.2 94.5 L286.7 92.2 L306.4 88.7 L319.6 76.9 L345.9 74.5" stroke="rgba(115,125,210,0.75)" stroke-width="0.8" fill="none"/>
<path d="M253.8 100.4 L270.2 88.7 L286.7 76.9 L306.4 66.3 L319.6 55.8 L345.9 80.4" stroke="rgba(215,95,80,0.75)" stroke-width="0.8" fill="none"/>
<path d="M253.8 99.2 L270.2 93.3 L286.7 79.2 L306.4 84.0 L319.6 62.8 L345.9 60.4" stroke="rgba(215,95,80,0.75)" stroke-width="0.8" fill="none"/>
<path d="M253.8 101.6 L270.2 91.0 L286.7 78.1 L306.4 79.2 L319.6 72.2 L345.9 64.0" stroke="rgba(215,95,80,0.75)" stroke-width="0.8" fill="none"/>
<path d="M253.8 100.4 L270.2 94.5 L286.7 84.0 L306.4 74.5 L319.6 69.8 L345.9 66.3" stroke="rgba(215,95,80,0.75)" stroke-width="0.8" fill="none"/>
<path d="M253.8 101.6 L270.2 92.2 L286.7 81.6 L306.4 88.7 L319.6 74.5 L345.9 62.8" stroke="rgba(215,95,80,0.75)" stroke-width="0.8" fill="none"/>
<path d="M253.8 100.4 L270.2 93.3 L286.7 85.1 L306.4 81.6 L319.6 71.0 L345.9 69.8" stroke="rgba(215,95,80,0.75)" stroke-width="0.8" fill="none"/>
<path d="M253.8 99.2 L270.2 95.7 L286.7 88.7 L306.4 78.1 L319.6 67.5 L345.9 72.2" stroke="rgba(215,95,80,0.75)" stroke-width="0.8" fill="none"/>
<path d="M253.8 102.8 L270.2 96.9 L286.7 89.8 L306.4 84.0 L319.6 76.9 L345.9 67.5" stroke="rgba(215,95,80,0.75)" stroke-width="0.8" fill="none"/>
<path d="M253.8 100.4 L270.2 91.0 L286.7 84.0 L306.4 86.3 L319.6 65.2 L345.9 74.5" stroke="rgba(215,95,80,0.75)" stroke-width="0.8" fill="none"/>
<line x1="375.6" y1="13.349999999999998" x2="375.6" y2="45.3" stroke="#e6e6e6" stroke-width="0.5"/>
<text x="374.4" y="47.4" font-size="5.9" text-anchor="end" font-weight="normal" font-family="'Liberation Serif',serif" fill="#333" stroke="#333" stroke-width="0.22">0</text>
<text x="374.4" y="36.75" font-size="5.9" text-anchor="end" font-weight="normal" font-family="'Liberation Serif',serif" fill="#333" stroke="#333" stroke-width="0.22">5</text>
<text x="374.4" y="26.1" font-size="5.9" text-anchor="end" font-weight="normal" font-family="'Liberation Serif',serif" fill="#333" stroke="#333" stroke-width="0.22">10</text>
<text x="374.4" y="15.449999999999998" font-size="5.9" text-anchor="end" font-weight="normal" font-family="'Liberation Serif',serif" fill="#333" stroke="#333" stroke-width="0.22">15</text>
<text x="379.7" y="20.6" font-size="7.6" text-anchor="start" font-weight="normal" font-family="'Liberation Serif',serif" fill="#222" stroke="#222" stroke-width="0.22">RBC (10<tspan font-size="4.3" dy="-2.8">6</tspan><tspan dy="2.8"> cells/mL)</tspan></text>
<path d="M376.4 30.5 L385.5 29.8 L391.2 28.7 L401.2 30.2 L407.8 29.0 L414.5 29.8 L423.4 30.9" stroke="rgba(95,100,205,0.55)" stroke-width="0.75" fill="none"/>
<path d="M376.4 25.6 L385.5 28.1 L391.2 27.5 L401.2 29.2 L407.8 26.4 L414.5 28.0 L423.4 29.6" stroke="rgba(190,40,75,0.55)" stroke-width="0.75" fill="none"/>
<path d="M376.4 29.3 L385.5 28.8 L391.2 26.5 L401.2 27.0 L407.8 28.6 L414.5 30.0 L423.4 28.6" stroke="rgba(190,40,75,0.55)" stroke-width="0.75" fill="none"/>
<path d="M376.4 29.2 L385.5 27.4 L391.2 28.9 L401.2 30.2 L407.8 29.3 L414.5 28.4 L423.4 29.0" stroke="rgba(95,100,205,0.55)" stroke-width="0.75" fill="none"/>
<path d="M376.4 27.6 L385.5 26.6 L391.2 26.4 L401.2 29.9 L407.8 28.6 L414.5 28.9 L423.4 27.9" stroke="rgba(190,40,75,0.55)" stroke-width="0.75" fill="none"/>
<path d="M376.4 31.5 L385.5 28.5 L391.2 30.0 L401.2 32.0 L407.8 30.5 L414.5 31.3 L423.4 30.1" stroke="rgba(190,40,75,0.55)" stroke-width="0.75" fill="none"/>
<path d="M376.4 32.0 L385.5 30.2 L391.2 32.1 L401.2 33.7 L407.8 31.6 L414.5 30.4 L423.4 31.3" stroke="rgba(95,100,205,0.55)" stroke-width="0.75" fill="none"/>
<path d="M376.4 26.2 L385.5 27.8 L391.2 27.2 L401.2 26.9 L407.8 28.2 L414.5 28.8 L423.4 29.3" stroke="rgba(190,40,75,0.55)" stroke-width="0.75" fill="none"/>
<path d="M376.4 28.0 L385.5 27.8 L391.2 29.6 L401.2 29.3 L407.8 28.3 L414.5 28.6 L423.4 27.6" stroke="rgba(190,40,75,0.55)" stroke-width="0.75" fill="none"/>
<path d="M376.4 29.7 L385.5 30.3 L391.2 29.7 L401.2 29.6 L407.8 27.9 L414.5 29.1 L423.4 31.4" stroke="rgba(95,100,205,0.55)" stroke-width="0.75" fill="none"/>
<path d="M376.4 29.6 L385.5 30.4 L391.2 28.9 L401.2 30.5 L407.8 31.0 L414.5 29.7 L423.4 29.8" stroke="rgba(190,40,75,0.55)" stroke-width="0.75" fill="none"/>
<path d="M376.4 28.0 L385.5 29.1 L391.2 26.5 L401.2 29.9 L407.8 29.6 L414.5 29.9 L423.4 30.0" stroke="rgba(190,40,75,0.55)" stroke-width="0.75" fill="none"/>
<path d="M376.4 31.3 L385.5 31.1 L391.2 31.4 L401.2 30.7 L407.8 31.7 L414.5 30.6 L423.4 29.9" stroke="rgba(95,100,205,0.55)" stroke-width="0.75" fill="none"/>
<path d="M376.4 28.6 L385.5 27.7 L391.2 28.5 L401.2 29.8 L407.8 29.4 L414.5 29.3 L423.4 29.4" stroke="rgba(190,40,75,0.55)" stroke-width="0.75" fill="none"/>
<path d="M376.4 26.1 L385.5 25.5 L391.2 27.8 L401.2 29.4 L407.8 29.1 L414.5 29.1 L423.4 29.8" stroke="rgba(190,40,75,0.55)" stroke-width="0.75" fill="none"/>
<path d="M376.4 30.8 L385.5 29.8 L391.2 28.5 L401.2 28.8 L407.8 27.7 L414.5 30.3 L423.4 29.1" stroke="rgba(95,100,205,0.55)" stroke-width="0.75" fill="none"/>
<path d="M376.4 27.8 L385.5 26.4 L391.2 26.2 L401.2 27.1 L407.8 28.3 L414.5 27.0 L423.4 28.0" stroke="rgba(190,40,75,0.55)" stroke-width="0.75" fill="none"/>
<path d="M376.4 29.1 L385.5 28.3 L391.2 29.6 L401.2 28.6 L407.8 28.9 L414.5 29.0 L423.4 28.8" stroke="rgba(190,40,75,0.55)" stroke-width="0.75" fill="none"/>
<line x1="375.6" y1="55.0" x2="375.6" y2="84.7" stroke="#e6e6e6" stroke-width="0.5"/>
<text x="374.4" y="86.8" font-size="5.9" text-anchor="end" font-weight="normal" font-family="'Liberation Serif',serif" fill="#333" stroke="#333" stroke-width="0.22">0</text>
<text x="374.4" y="76.89999999999999" font-size="5.9" text-anchor="end" font-weight="normal" font-family="'Liberation Serif',serif" fill="#333" stroke="#333" stroke-width="0.22">200</text>
<text x="374.4" y="67.0" font-size="5.9" text-anchor="end" font-weight="normal" font-family="'Liberation Serif',serif" fill="#333" stroke="#333" stroke-width="0.22">400</text>
<text x="374.4" y="57.1" font-size="5.9" text-anchor="end" font-weight="normal" font-family="'Liberation Serif',serif" fill="#333" stroke="#333" stroke-width="0.22">600</text>
<text x="379.7" y="57.8" font-size="7.6" text-anchor="start" font-weight="normal" font-family="'Liberation Serif',serif" fill="#222" stroke="#222" stroke-width="0.22">HCT</text>
<path d="M376.4 71.0 L385.5 66.5 L391.2 67.6 L401.2 71.8 L407.8 68.2 L414.5 68.3 L423.4 67.3" stroke="rgba(95,100,205,0.55)" stroke-width="0.75" fill="none"/>
<path d="M376.4 66.6 L385.5 65.5 L391.2 64.8 L401.2 67.1 L407.8 65.2 L414.5 66.8 L423.4 68.4" stroke="rgba(190,40,75,0.55)" stroke-width="0.75" fill="none"/>
<path d="M376.4 67.6 L385.5 66.2 L391.2 66.5 L401.2 66.8 L407.8 64.4 L414.5 66.4 L423.4 66.4" stroke="rgba(190,40,75,0.55)" stroke-width="0.75" fill="none"/>
<path d="M376.4 68.9 L385.5 66.4 L391.2 67.5 L401.2 67.4 L407.8 64.3 L414.5 65.8 L423.4 65.6" stroke="rgba(95,100,205,0.55)" stroke-width="0.75" fill="none"/>
<path d="M376.4 67.8 L385.5 65.5 L391.2 64.6 L401.2 68.6 L407.8 66.6 L414.5 66.6 L423.4 67.8" stroke="rgba(190,40,75,0.55)" stroke-width="0.75" fill="none"/>
<path d="M376.4 67.9 L385.5 65.2 L391.2 68.7 L401.2 69.8 L407.8 64.6 L414.5 67.2 L423.4 67.6" stroke="rgba(190,40,75,0.55)" stroke-width="0.75" fill="none"/>
<path d="M376.4 67.7 L385.5 66.5 L391.2 69.3 L401.2 68.8 L407.8 67.7 L414.5 66.1 L423.4 68.7" stroke="rgba(95,100,205,0.55)" stroke-width="0.75" fill="none"/>
<path d="M376.4 67.1 L385.5 66.5 L391.2 68.9 L401.2 69.3 L407.8 66.1 L414.5 65.4 L423.4 66.3" stroke="rgba(190,40,75,0.55)" stroke-width="0.75" fill="none"/>
<path d="M376.4 65.2 L385.5 67.2 L391.2 65.6 L401.2 69.4 L407.8 65.0 L414.5 67.9 L423.4 67.4" stroke="rgba(190,40,75,0.55)" stroke-width="0.75" fill="none"/>
<path d="M376.4 67.8 L385.5 67.3 L391.2 68.1 L401.2 68.2 L407.8 65.3 L414.5 66.8 L423.4 69.0" stroke="rgba(95,100,205,0.55)" stroke-width="0.75" fill="none"/>
<path d="M376.4 64.5 L385.5 66.5 L391.2 67.1 L401.2 69.1 L407.8 64.4 L414.5 66.9 L423.4 64.7" stroke="rgba(190,40,75,0.55)" stroke-width="0.75" fill="none"/>
<path d="M376.4 65.4 L385.5 64.3 L391.2 67.9 L401.2 66.0 L407.8 65.8 L414.5 67.4 L423.4 65.5" stroke="rgba(190,40,75,0.55)" stroke-width="0.75" fill="none"/>
<path d="M376.4 68.2 L385.5 65.4 L391.2 67.6 L401.2 66.0 L407.8 65.3 L414.5 64.9 L423.4 67.4" stroke="rgba(95,100,205,0.55)" stroke-width="0.75" fill="none"/>
<path d="M376.4 66.1 L385.5 61.4 L391.2 65.2 L401.2 63.6 L407.8 63.6 L414.5 66.1 L423.4 64.0" stroke="rgba(190,40,75,0.55)" stroke-width="0.75" fill="none"/>
<path d="M376.4 65.4 L385.5 63.2 L391.2 62.8 L401.2 67.8 L407.8 63.4 L414.5 63.2 L423.4 64.9" stroke="rgba(190,40,75,0.55)" stroke-width="0.75" fill="none"/>
<path d="M376.4 69.1 L385.5 65.5 L391.2 67.4 L401.2 67.4 L407.8 66.4 L414.5 68.0 L423.4 68.4" stroke="rgba(95,100,205,0.55)" stroke-width="0.75" fill="none"/>
<path d="M376.4 68.3 L385.5 67.7 L391.2 68.1 L401.2 68.3 L407.8 65.1 L414.5 67.1 L423.4 66.3" stroke="rgba(190,40,75,0.55)" stroke-width="0.75" fill="none"/>
<path d="M376.4 64.2 L385.5 64.9 L391.2 62.9 L401.2 65.9 L407.8 64.2 L414.5 65.0 L423.4 64.0" stroke="rgba(190,40,75,0.55)" stroke-width="0.75" fill="none"/>
<line x1="375.6" y1="91.69999999999999" x2="375.6" y2="125.6" stroke="#e6e6e6" stroke-width="0.5"/>
<text x="374.4" y="127.69999999999999" font-size="5.9" text-anchor="end" font-weight="normal" font-family="'Liberation Serif',serif" fill="#333" stroke="#333" stroke-width="0.22">0</text>
<text x="374.4" y="119.225" font-size="5.9" text-anchor="end" font-weight="normal" font-family="'Liberation Serif',serif" fill="#333" stroke="#333" stroke-width="0.22">50</text>
<text x="374.4" y="110.74999999999999" font-size="5.9" text-anchor="end" font-weight="normal" font-family="'Liberation Serif',serif" fill="#333" stroke="#333" stroke-width="0.22">100</text>
<text x="374.4" y="102.27499999999999" font-size="5.9" text-anchor="end" font-weight="normal" font-family="'Liberation Serif',serif" fill="#333" stroke="#333" stroke-width="0.22">150</text>
<text x="374.4" y="93.79999999999998" font-size="5.9" text-anchor="end" font-weight="normal" font-family="'Liberation Serif',serif" fill="#333" stroke="#333" stroke-width="0.22">200</text>
<text x="379.4" y="98.9" font-size="7.6" text-anchor="start" font-weight="normal" font-family="'Liberation Serif',serif" fill="#222" stroke="#222" stroke-width="0.22">HGB (g/L)</text>
<path d="M376.4 107.4 L385.5 105.5 L391.2 107.7 L401.2 108.7 L407.8 104.6 L414.5 105.1 L423.4 109.0" stroke="rgba(95,100,205,0.55)" stroke-width="0.75" fill="none"/>
<path d="M376.4 104.5 L385.5 106.1 L391.2 105.4 L401.2 107.8 L407.8 105.2 L414.5 106.5 L423.4 105.4" stroke="rgba(190,40,75,0.55)" stroke-width="0.75" fill="none"/>
<path d="M376.4 108.2 L385.5 105.6 L391.2 107.7 L401.2 108.4 L407.8 104.3 L414.5 107.6 L423.4 107.8" stroke="rgba(190,40,75,0.55)" stroke-width="0.75" fill="none"/>
<path d="M376.4 105.7 L385.5 107.6 L391.2 107.4 L401.2 109.3 L407.8 107.8 L414.5 107.8 L423.4 109.4" stroke="rgba(95,100,205,0.55)" stroke-width="0.75" fill="none"/>
<path d="M376.4 107.1 L385.5 104.4 L391.2 107.6 L401.2 108.4 L407.8 104.0 L414.5 104.8 L423.4 105.9" stroke="rgba(190,40,75,0.55)" stroke-width="0.75" fill="none"/>
<path d="M376.4 107.7 L385.5 107.1 L391.2 107.1 L401.2 108.9 L407.8 106.1 L414.5 106.7 L423.4 108.4" stroke="rgba(190,40,75,0.55)" stroke-width="0.75" fill="none"/>
<path d="M376.4 109.9 L385.5 107.8 L391.2 110.0 L401.2 110.7 L407.8 108.7 L414.5 108.2 L423.4 107.1" stroke="rgba(95,100,205,0.55)" stroke-width="0.75" fill="none"/>
<path d="M376.4 109.3 L385.5 107.8 L391.2 107.8 L401.2 109.4 L407.8 105.3 L414.5 108.3 L423.4 108.2" stroke="rgba(190,40,75,0.55)" stroke-width="0.75" fill="none"/>
<path d="M376.4 103.9 L385.5 105.6 L391.2 107.4 L401.2 105.0 L407.8 106.4 L414.5 105.7 L423.4 105.5" stroke="rgba(190,40,75,0.55)" stroke-width="0.75" fill="none"/>
<path d="M376.4 108.5 L385.5 107.6 L391.2 105.7 L401.2 108.9 L407.8 104.6 L414.5 107.9 L423.4 107.2" stroke="rgba(95,100,205,0.55)" stroke-width="0.75" fill="none"/>
<path d="M376.4 109.4 L385.5 106.3 L391.2 109.5 L401.2 107.9 L407.8 104.8 L414.5 107.5 L423.4 106.1" stroke="rgba(190,40,75,0.55)" stroke-width="0.75" fill="none"/>
<path d="M376.4 104.9 L385.5 104.4 L391.2 104.0 L401.2 104.5 L407.8 106.5 L414.5 105.1 L423.4 108.4" stroke="rgba(190,40,75,0.55)" stroke-width="0.75" fill="none"/>
<path d="M376.4 108.9 L385.5 107.9 L391.2 109.5 L401.2 110.9 L407.8 107.8 L414.5 108.3 L423.4 109.3" stroke="rgba(95,100,205,0.55)" stroke-width="0.75" fill="none"/>
<path d="M376.4 107.8 L385.5 106.3 L391.2 108.7 L401.2 107.8 L407.8 105.8 L414.5 109.0 L423.4 108.1" stroke="rgba(190,40,75,0.55)" stroke-width="0.75" fill="none"/>
<path d="M376.4 104.6 L385.5 104.9 L391.2 106.8 L401.2 105.7 L407.8 106.2 L414.5 107.0 L423.4 105.6" stroke="rgba(190,40,75,0.55)" stroke-width="0.75" fill="none"/>
<path d="M376.4 108.4 L385.5 107.9 L391.2 108.0 L401.2 110.3 L407.8 107.8 L414.5 105.8 L423.4 106.7" stroke="rgba(95,100,205,0.55)" stroke-width="0.75" fill="none"/>
<path d="M376.4 108.7 L385.5 104.7 L391.2 106.7 L401.2 108.3 L407.8 105.3 L414.5 106.2 L423.4 106.8" stroke="rgba(190,40,75,0.55)" stroke-width="0.75" fill="none"/>
<path d="M376.4 106.2 L385.5 103.8 L391.2 105.4 L401.2 107.9 L407.8 103.7 L414.5 106.4 L423.4 107.8" stroke="rgba(190,40,75,0.55)" stroke-width="0.75" fill="none"/>
<line x1="375" y1="125.6" x2="428" y2="125.6" stroke="#d0d0d0" stroke-width="0.6"/>
<text x="376.4" y="133.9" font-size="5.9" text-anchor="middle" font-weight="normal" font-family="'Liberation Serif',serif" fill="#333" stroke="#333" stroke-width="0.22">7</text>
<text x="393.27" y="133.9" font-size="5.9" text-anchor="middle" font-weight="normal" font-family="'Liberation Serif',serif" fill="#333" stroke="#333" stroke-width="0.22">17</text>
<text x="410.14" y="133.9" font-size="5.9" text-anchor="middle" font-weight="normal" font-family="'Liberation Serif',serif" fill="#333" stroke="#333" stroke-width="0.22">27</text>
<text x="427.01" y="133.9" font-size="5.9" text-anchor="middle" font-weight="normal" font-family="'Liberation Serif',serif" fill="#333" stroke="#333" stroke-width="0.22">37</text>
<text x="403.3" y="142.2" font-size="7.8" text-anchor="middle" font-weight="normal" font-family="'Liberation Serif',serif" fill="#222" stroke="#222" stroke-width="0.22">Weeks</text>
<line x1="266.3" y1="163.5" x2="266.3" y2="207.3" stroke="#c8c8c8" stroke-width="0.6"/>
<line x1="266.3" y1="207.3" x2="358.7" y2="207.3" stroke="#c8c8c8" stroke-width="0.6"/>
<text x="264.1" y="209.10000000000002" font-size="5.3" text-anchor="end" font-weight="normal" font-family="'Liberation Serif',serif" fill="#333" stroke="#333" stroke-width="0.22">0</text>
<text x="264.1" y="200.54000000000002" font-size="5.3" text-anchor="end" font-weight="normal" font-family="'Liberation Serif',serif" fill="#333" stroke="#333" stroke-width="0.22">20</text>
<text x="264.1" y="191.98000000000002" font-size="5.3" text-anchor="end" font-weight="normal" font-family="'Liberation Serif',serif" fill="#333" stroke="#333" stroke-width="0.22">40</text>
<text x="264.1" y="183.42000000000002" font-size="5.3" text-anchor="end" font-weight="normal" font-family="'Liberation Serif',serif" fill="#333" stroke="#333" stroke-width="0.22">60</text>
<text x="264.1" y="174.86" font-size="5.3" text-anchor="end" font-weight="normal" font-family="'Liberation Serif',serif" fill="#333" stroke="#333" stroke-width="0.22">80</text>
<text x="264.1" y="166.3" font-size="5.3" text-anchor="end" font-weight="normal" font-family="'Liberation Serif',serif" fill="#333" stroke="#333" stroke-width="0.22">100</text>
<text x="266.3" y="215.0" font-size="5.3" text-anchor="middle" font-weight="normal" font-family="'Liberation Serif',serif" fill="#333" stroke="#333" stroke-width="0.22">0</text>
<text x="312.5" y="215.0" font-size="5.3" text-anchor="middle" font-weight="normal" font-family="'Liberation Serif',serif" fill="#333" stroke="#333" stroke-width="0.22">5</text>
<text x="358.7" y="215.0" font-size="5.3" text-anchor="middle" font-weight="normal" font-family="'Liberation Serif',serif" fill="#333" stroke="#333" stroke-width="0.22">10</text>
<text x="0" y="0" font-size="7.3" text-anchor="middle" font-weight="bold" font-family="'Liberation Serif',serif" fill="#222" stroke="#222" stroke-width="0.33999999999999997" transform="translate(305.5 156.5) scale(1 1.08)">HOXA9</text>
<text x="313.2" y="222.6" font-size="7.3" text-anchor="middle" font-weight="normal" font-family="'Liberation Serif',serif" fill="#222" stroke="#222" stroke-width="0.22">Weeks</text>
<text x="0" y="0" font-size="5.6" text-anchor="start" font-weight="normal" font-family="'Liberation Serif',serif" fill="#444" stroke="#444" stroke-width="0.22" transform="translate(296.3 170.4) scale(1 1.15)"><tspan font-style="italic">P</tspan> &lt; 0.001</text>
<text x="244.4" y="186.5" font-size="7.6" text-anchor="middle" font-weight="normal" font-family="'Liberation Serif',serif" fill="#222" stroke="#222" stroke-width="0.22" transform="rotate(-90 244.4 186.5)">Remaining</text>
<text x="254.0" y="186.3" font-size="7.6" text-anchor="middle" font-weight="normal" font-family="'Liberation Serif',serif" fill="#222" stroke="#222" stroke-width="0.22" transform="rotate(-90 254.0 186.3)">mice (%)</text>
<path d="M283 164.5H331.2V195.3H340V207.3" stroke="#4560ae" stroke-width="1.5" fill="none"/>
<path d="M266.3 164.5H283.9V177H298V189H303.2V207.3" stroke="#b8323f" stroke-width="1.5" fill="none"/>
<line x1="415.5" y1="163.5" x2="415.5" y2="207.3" stroke="#c8c8c8" stroke-width="0.6"/>
<line x1="415.5" y1="207.3" x2="505.5" y2="207.3" stroke="#c8c8c8" stroke-width="0.6"/>
<text x="413.3" y="209.10000000000002" font-size="5.3" text-anchor="end" font-weight="normal" font-family="'Liberation Serif',serif" fill="#333" stroke="#333" stroke-width="0.22">0</text>
<text x="413.3" y="200.54000000000002" font-size="5.3" text-anchor="end" font-weight="normal" font-family="'Liberation Serif',serif" fill="#333" stroke="#333" stroke-width="0.22">20</text>
<text x="413.3" y="191.98000000000002" font-size="5.3" text-anchor="end" font-weight="normal" font-family="'Liberation Serif',serif" fill="#333" stroke="#333" stroke-width="0.22">40</text>
<text x="413.3" y="183.42000000000002" font-size="5.3" text-anchor="end" font-weight="normal" font-family="'Liberation Serif',serif" fill="#333" stroke="#333" stroke-width="0.22">60</text>
<text x="413.3" y="174.86" font-size="5.3" text-anchor="end" font-weight="normal" font-family="'Liberation Serif',serif" fill="#333" stroke="#333" stroke-width="0.22">80</text>
<text x="413.3" y="166.3" font-size="5.3" text-anchor="end" font-weight="normal" font-family="'Liberation Serif',serif" fill="#333" stroke="#333" stroke-width="0.22">100</text>
<text x="415.5" y="215.0" font-size="5.3" text-anchor="middle" font-weight="normal" font-family="'Liberation Serif',serif" fill="#333" stroke="#333" stroke-width="0.22">0</text>
<text x="460.5" y="215.0" font-size="5.3" text-anchor="middle" font-weight="normal" font-family="'Liberation Serif',serif" fill="#333" stroke="#333" stroke-width="0.22">5</text>
<text x="505.5" y="215.0" font-size="5.3" text-anchor="middle" font-weight="normal" font-family="'Liberation Serif',serif" fill="#333" stroke="#333" stroke-width="0.22">10</text>
<text x="0" y="0" font-size="7.3" text-anchor="middle" font-weight="bold" font-family="'Liberation Serif',serif" fill="#222" stroke="#222" stroke-width="0.33999999999999997" transform="translate(466.2 156.5) scale(1 1.08)">NUP98-HOXA9</text>
<text x="461" y="222.6" font-size="7.3" text-anchor="middle" font-weight="normal" font-family="'Liberation Serif',serif" fill="#222" stroke="#222" stroke-width="0.22">Weeks</text>
<text x="0" y="0" font-size="5.6" text-anchor="start" font-weight="normal" font-family="'Liberation Serif',serif" fill="#444" stroke="#444" stroke-width="0.22" transform="translate(446.6 172.6) scale(1 1.15)"><tspan font-style="italic">P</tspan> &lt; 0.001</text>
<text x="393.2" y="186.5" font-size="7.6" text-anchor="middle" font-weight="normal" font-family="'Liberation Serif',serif" fill="#222" stroke="#222" stroke-width="0.22" transform="rotate(-90 393.2 186.5)">Remaining</text>
<text x="402.4" y="186.3" font-size="7.6" text-anchor="middle" font-weight="normal" font-family="'Liberation Serif',serif" fill="#222" stroke="#222" stroke-width="0.22" transform="rotate(-90 402.4 186.3)">mice (%)</text>
<path d="M472 164.3H497V186H500.9V192.6H505V207.3" stroke="#4560ae" stroke-width="1.5" fill="none"/>
<path d="M415.5 164.3H472.5V200H478.9V207.3" stroke="#b8323f" stroke-width="1.5" fill="none"/>
<line x1="333.6" y1="175.1" x2="342.5" y2="175.1" stroke="#4a64a8" stroke-width="1.4"/>
<text x="0" y="0" font-size="7.4" text-anchor="start" font-weight="normal" font-family="'Liberation Serif',serif" fill="#222" stroke="#222" stroke-width="0.22" transform="translate(343.6 177.6) scale(1 1.12)">Wt</text>
<line x1="333.6" y1="183.3" x2="342.5" y2="183.3" stroke="#a84048" stroke-width="1.4"/>
<text x="0" y="0" font-size="7.3" text-anchor="start" font-weight="normal" font-family="'Liberation Serif',serif" fill="#222" stroke="#222" stroke-width="0.22" transform="translate(343.6 186.0) scale(1 1.12)">Smad4<tspan font-size="4.3" dy="-2.8">-/-</tspan></text>
<line x1="264" y1="264.2" x2="264" y2="321.8" stroke="#c8c8c8" stroke-width="0.6"/>
<line x1="264" y1="321.8" x2="358" y2="321.8" stroke="#c8c8c8" stroke-width="0.6"/>
<line x1="264" y1="293.5" x2="357" y2="293.5" stroke="#c4c4c4" stroke-width="0.6"/>
<text x="261.8" y="323.7" font-size="5.4" text-anchor="end" font-weight="normal" font-family="'Liberation Serif',serif" fill="#444" stroke="#444" stroke-width="0.22">0</text>
<text x="261.8" y="312.38" font-size="5.4" text-anchor="end" font-weight="normal" font-family="'Liberation Serif',serif" fill="#444" stroke="#444" stroke-width="0.22">20</text>
<text x="261.8" y="301.06" font-size="5.4" text-anchor="end" font-weight="normal" font-family="'Liberation Serif',serif" fill="#444" stroke="#444" stroke-width="0.22">40</text>
<text x="261.8" y="289.73999999999995" font-size="5.4" text-anchor="end" font-weight="normal" font-family="'Liberation Serif',serif" fill="#444" stroke="#444" stroke-width="0.22">60</text>
<text x="261.8" y="278.41999999999996" font-size="5.4" text-anchor="end" font-weight="normal" font-family="'Liberation Serif',serif" fill="#444" stroke="#444" stroke-width="0.22">80</text>
<text x="261.8" y="267.09999999999997" font-size="5.4" text-anchor="end" font-weight="normal" font-family="'Liberation Serif',serif" fill="#444" stroke="#444" stroke-width="0.22">100</text>
<text x="264" y="331.2" font-size="5.4" text-anchor="middle" font-weight="normal" font-family="'Liberation Serif',serif" fill="#333" stroke="#333" stroke-width="0.22">10000</text>
<text x="310.7" y="331.2" font-size="5.4" text-anchor="middle" font-weight="normal" font-family="'Liberation Serif',serif" fill="#333" stroke="#333" stroke-width="0.22">1000</text>
<text x="357" y="331.2" font-size="5.4" text-anchor="middle" font-weight="normal" font-family="'Liberation Serif',serif" fill="#333" stroke="#333" stroke-width="0.22">100</text>
<text x="0" y="0" font-size="7.5" text-anchor="middle" font-weight="bold" font-family="'Liberation Serif',serif" fill="#222" stroke="#222" stroke-width="0.33999999999999997" transform="translate(284.5 255.0) scale(1 1.08)">HOXA9</text>
<text x="314" y="341.9" font-size="7.2" text-anchor="middle" font-weight="normal" font-family="'Liberation Serif',serif" fill="#222" stroke="#222" stroke-width="0.22">Transplanted cells</text>
<text x="242.6" y="293.6" font-size="7.7" text-anchor="middle" font-weight="normal" font-family="'Liberation Serif',serif" fill="#222" stroke="#222" stroke-width="0.22" transform="rotate(-90 242.6 293.6)">Remaining</text>
<text x="253.6" y="293.6" font-size="7.7" text-anchor="middle" font-weight="normal" font-family="'Liberation Serif',serif" fill="#222" stroke="#222" stroke-width="0.22" transform="rotate(-90 253.6 293.6)">mice (%)</text>
<path d="M264 265.6L356.9 290.6" stroke="#b8283a" stroke-width="1.3" fill="none"/>
<path d="M264.5 270.2L356.9 317.2" stroke="#3e4f98" stroke-width="1.2" fill="none"/>
<line x1="310.5" y1="294.1" x2="310.5" y2="316.5" stroke="#222" stroke-width="1.1" stroke-dasharray="2.2 1.3"/>
<path d="M308.0 316.2L313.0 316.2L310.5 322.4Z" stroke="none" stroke-width="1" fill="#000"/>
<line x1="357" y1="294.1" x2="357" y2="316.5" stroke="#222" stroke-width="1.1" stroke-dasharray="2.2 1.3"/>
<path d="M354.5 316.2L359.5 316.2L357 322.4Z" stroke="none" stroke-width="1" fill="#000"/>
<circle cx="264" cy="264.8" r="2.1" fill="#b8283a" stroke="none" stroke-width="1"/>
<circle cx="264.2" cy="265.8" r="1.8" fill="#fff" stroke="#b8283a" stroke-width="0.9"/>
<circle cx="310.5" cy="273" r="2.1" fill="#b8283a" stroke="none" stroke-width="1"/>
<circle cx="310.5" cy="281.8" r="1.8" fill="#fff" stroke="#b8283a" stroke-width="0.9"/>
<circle cx="310.5" cy="297.8" r="1.8" fill="#fff" stroke="#3e4f98" stroke-width="0.9"/>
<circle cx="310.5" cy="305.2" r="2.1" fill="#3e4f98" stroke="none" stroke-width="1"/>
<circle cx="357" cy="289" r="2.1" fill="#b8283a" stroke="none" stroke-width="1"/>
<circle cx="357" cy="290.8" r="1.8" fill="#fff" stroke="#b8283a" stroke-width="0.9"/>
<circle cx="357" cy="314.3" r="1.8" fill="#fff" stroke="#3e4f98" stroke-width="0.9"/>
<text x="288.3" y="308.1" font-size="7.3" text-anchor="start" font-weight="bold" font-family="'Liberation Serif',serif" fill="#44548f">LIC =</text>
<text x="288.3" y="316.8" font-size="7.3" text-anchor="start" font-weight="bold" font-family="'Liberation Serif',serif" fill="#44548f">0.10%</text>
<text x="359.2" y="308.3" font-size="7.3" text-anchor="start" font-weight="bold" font-family="'Liberation Serif',serif" fill="#a8303c">LIC =</text>
<text x="359.2" y="316.9" font-size="7.3" text-anchor="start" font-weight="bold" font-family="'Liberation Serif',serif" fill="#a8303c">1.11%</text>
<line x1="316.6" y1="251.3" x2="324.90000000000003" y2="251.3" stroke="#505a90" stroke-width="1.3"/>
<text x="0" y="0" font-size="7.1" text-anchor="start" font-weight="normal" font-family="'Liberation Serif',serif" fill="#333" stroke="#333" stroke-width="0.22" transform="translate(327.1 253.8) scale(1 1.12)">Wt</text>
<line x1="316.6" y1="259.9" x2="324.90000000000003" y2="259.9" stroke="#a03040" stroke-width="1.3"/>
<text x="0" y="0" font-size="7.1" text-anchor="start" font-weight="normal" font-family="'Liberation Serif',serif" fill="#333" stroke="#333" stroke-width="0.22" transform="translate(327.1 262.4) scale(1 1.12)">Smad4<tspan font-size="4.4" dy="-2.7">-/-</tspan></text>
<line x1="414.6" y1="262.8" x2="414.6" y2="322" stroke="#c8c8c8" stroke-width="0.6"/>
<line x1="414.6" y1="322" x2="509.4" y2="322" stroke="#c8c8c8" stroke-width="0.6"/>
<line x1="414.6" y1="292.9" x2="508.4" y2="292.9" stroke="#c4c4c4" stroke-width="0.6"/>
<text x="412.40000000000003" y="323.9" font-size="5.4" text-anchor="end" font-weight="normal" font-family="'Liberation Serif',serif" fill="#444" stroke="#444" stroke-width="0.22">0</text>
<text x="412.40000000000003" y="312.26" font-size="5.4" text-anchor="end" font-weight="normal" font-family="'Liberation Serif',serif" fill="#444" stroke="#444" stroke-width="0.22">20</text>
<text x="412.40000000000003" y="300.62" font-size="5.4" text-anchor="end" font-weight="normal" font-family="'Liberation Serif',serif" fill="#444" stroke="#444" stroke-width="0.22">40</text>
<text x="412.40000000000003" y="288.98" font-size="5.4" text-anchor="end" font-weight="normal" font-family="'Liberation Serif',serif" fill="#444" stroke="#444" stroke-width="0.22">60</text>
<text x="412.40000000000003" y="277.34" font-size="5.4" text-anchor="end" font-weight="normal" font-family="'Liberation Serif',serif" fill="#444" stroke="#444" stroke-width="0.22">80</text>
<text x="412.40000000000003" y="265.7" font-size="5.4" text-anchor="end" font-weight="normal" font-family="'Liberation Serif',serif" fill="#444" stroke="#444" stroke-width="0.22">100</text>
<text x="417.4" y="331.2" font-size="5.4" text-anchor="middle" font-weight="normal" font-family="'Liberation Serif',serif" fill="#333" stroke="#333" stroke-width="0.22">10000</text>
<text x="462.9" y="331.2" font-size="5.4" text-anchor="middle" font-weight="normal" font-family="'Liberation Serif',serif" fill="#333" stroke="#333" stroke-width="0.22">1000</text>
<text x="508.4" y="331.2" font-size="5.4" text-anchor="middle" font-weight="normal" font-family="'Liberation Serif',serif" fill="#333" stroke="#333" stroke-width="0.22">100</text>
<text x="0" y="0" font-size="7.5" text-anchor="middle" font-weight="bold" font-family="'Liberation Serif',serif" fill="#222" stroke="#222" stroke-width="0.33999999999999997" transform="translate(444.8 255.0) scale(1 1.08)">NUP98-HOXA9</text>
<text x="463" y="341.9" font-size="7.2" text-anchor="middle" font-weight="normal" font-family="'Liberation Serif',serif" fill="#222" stroke="#222" stroke-width="0.22">Transplanted cells</text>
<text x="392.4" y="293.6" font-size="7.7" text-anchor="middle" font-weight="normal" font-family="'Liberation Serif',serif" fill="#222" stroke="#222" stroke-width="0.22" transform="rotate(-90 392.4 293.6)">Remaining</text>
<text x="401.2" y="293.6" font-size="7.7" text-anchor="middle" font-weight="normal" font-family="'Liberation Serif',serif" fill="#222" stroke="#222" stroke-width="0.22" transform="rotate(-90 401.2 293.6)">mice (%)</text>
<path d="M414.6 264L507.6 296.6" stroke="#b8283a" stroke-width="1.3" fill="none"/>
<path d="M414.6 267.7L494.3 319.4" stroke="#3e4f98" stroke-width="1.2" fill="none"/>
<line x1="452.6" y1="293.5" x2="452.6" y2="316.5" stroke="#222" stroke-width="1.1" stroke-dasharray="2.2 1.3"/>
<path d="M450.1 316.2L455.1 316.2L452.6 322.4Z" stroke="none" stroke-width="1" fill="#000"/>
<line x1="495.5" y1="293.5" x2="495.5" y2="316.5" stroke="#222" stroke-width="1.1" stroke-dasharray="2.2 1.3"/>
<path d="M493.0 316.2L498.0 316.2L495.5 322.4Z" stroke="none" stroke-width="1" fill="#000"/>
<circle cx="415" cy="263.4" r="2.1" fill="#b8283a" stroke="none" stroke-width="1"/>
<circle cx="415.2" cy="264.6" r="1.8" fill="#fff" stroke="#b8283a" stroke-width="0.9"/>
<circle cx="461.1" cy="280" r="2.1" fill="#b8283a" stroke="none" stroke-width="1"/>
<circle cx="461.1" cy="289.4" r="1.8" fill="#fff" stroke="#b8283a" stroke-width="0.9"/>
<circle cx="461.1" cy="315.1" r="1.8" fill="#fff" stroke="#3e4f98" stroke-width="0.9"/>
<circle cx="461.1" cy="322" r="2.1" fill="#3e4f98" stroke="none" stroke-width="1"/>
<circle cx="507.6" cy="288.9" r="2.1" fill="#b8283a" stroke="none" stroke-width="1"/>
<circle cx="508" cy="297.6" r="1.8" fill="#fff" stroke="#b8283a" stroke-width="0.9"/>
<circle cx="507.6" cy="322.1" r="1.8" fill="#fff" stroke="#3e4f98" stroke-width="0.9"/>
<text x="430.8" y="307.2" font-size="7.3" text-anchor="start" font-weight="bold" font-family="'Liberation Serif',serif" fill="#44548f">LIC =</text>
<text x="430.8" y="316.9" font-size="7.3" text-anchor="start" font-weight="bold" font-family="'Liberation Serif',serif" fill="#44548f">0.05%</text>
<text x="497.9" y="308.4" font-size="7.3" text-anchor="start" font-weight="bold" font-family="'Liberation Serif',serif" fill="#a8303c">LIC =</text>
<text x="497.9" y="316.8" font-size="7.3" text-anchor="start" font-weight="bold" font-family="'Liberation Serif',serif" fill="#a8303c">0.72%</text>
<line x1="475.3" y1="251.5" x2="483.6" y2="251.5" stroke="#505a90" stroke-width="1.3"/>
<text x="0" y="0" font-size="7.1" text-anchor="start" font-weight="normal" font-family="'Liberation Serif',serif" fill="#333" stroke="#333" stroke-width="0.22" transform="translate(485.8 254.0) scale(1 1.12)">Wt</text>
<line x1="475.3" y1="260.3" x2="483.6" y2="260.3" stroke="#a03040" stroke-width="1.3"/>
<text x="0" y="0" font-size="7.1" text-anchor="start" font-weight="normal" font-family="'Liberation Serif',serif" fill="#333" stroke="#333" stroke-width="0.22" transform="translate(485.8 262.8) scale(1 1.12)">Smad4<tspan font-size="4.4" dy="-2.7">-/-</tspan></text>
</g></svg></body></html>
